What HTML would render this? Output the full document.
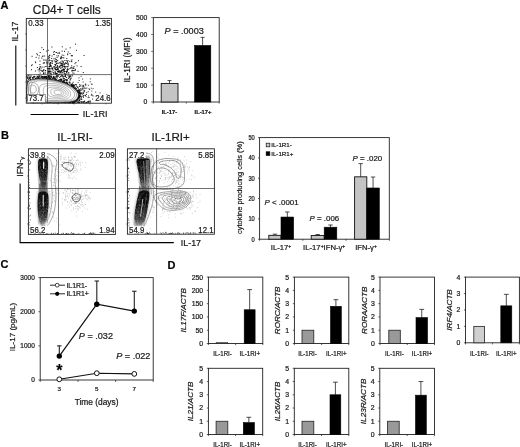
<!DOCTYPE html>
<html lang="en">
<head>
<meta charset="utf-8">
<title>Figure</title>
<style>
html,body{margin:0;padding:0;background:#fff;}
body{width:520px;height:447px;overflow:hidden;}
svg{display:block;font-family:"Liberation Sans", Arial, sans-serif;filter:blur(0.42px);}
text{stroke:#1a1a1a;stroke-width:0.22px;}
</style>
</head>
<body>
<svg width="520" height="447" viewBox="0 0 520 447">
<defs><filter id="bl" x="-20%" y="-20%" width="140%" height="140%"><feGaussianBlur stdDeviation="0.6"/></filter><linearGradient id="gB" x1="0" y1="0" x2="0" y2="1"><stop offset="0" stop-color="#080808"/><stop offset="0.6" stop-color="#161616"/><stop offset="0.85" stop-color="#444"/><stop offset="1" stop-color="#888"/></linearGradient><filter id="bl2" x="-30%" y="-30%" width="160%" height="160%"><feGaussianBlur stdDeviation="1.1"/></filter></defs>
<rect x="0" y="0" width="520" height="447" fill="#fff"/>
<text x="0.4" y="9.2" font-size="11" text-anchor="start" font-weight="bold" font-style="normal" fill="#000">A</text>
<text x="32.8" y="14" font-size="11.9" text-anchor="start" font-weight="normal" font-style="normal" fill="#1a1a1a">CD4+ T cells</text>
<clipPath id="cA"><rect x="26.3" y="18.4" width="85.10000000000001" height="84.80000000000001"/></clipPath>
<g clip-path="url(#cA)">
<path d="M55.1 65.6h1.0M55.4 59.5h1.0M48.7 59.7h1.0M68.1 66.0h1.0M67.4 64.6h1.0M61.3 63.7h1.0M41.7 67.1h1.0M62.3 66.1h1.0M41.4 47.7h1.0M49.0 57.8h1.0M60.4 61.9h1.0M62.4 57.6h1.0M60.4 65.2h1.0M51.2 74.3h1.0M62.8 71.3h1.0M51.6 56.0h1.0M54.2 60.9h1.0M63.5 64.3h1.0M53.3 54.5h1.0M52.6 70.7h1.0M49.8 63.2h1.0M61.6 51.2h1.0M58.0 71.8h1.0M38.4 58.1h1.0M56.5 55.8h1.0M62.2 61.9h1.0M43.6 67.1h1.0M63.9 69.6h1.0M71.2 65.8h1.0M58.6 52.4h1.0M63.3 57.9h1.0M53.2 52.2h1.0M48.3 57.3h1.0M69.7 47.8h1.0M43.7 62.7h1.0M71.2 67.4h1.0M60.9 56.8h1.0M46.9 68.5h1.0M68.0 64.0h1.0M59.8 65.4h1.0M72.6 67.8h1.0M62.4 66.5h1.0M42.6 70.4h1.0M66.6 66.7h1.0M38.7 55.8h1.0M65.5 49.1h1.0M55.8 69.5h1.0M45.0 73.0h1.0M62.7 61.3h1.0M60.6 67.1h1.0M58.6 70.6h1.0M51.2 58.4h1.0M67.4 63.0h1.0M49.1 68.4h1.0M71.4 59.8h1.0M44.4 60.0h1.0M56.1 59.7h1.0M70.8 55.4h1.0M69.5 53.5h1.0M50.0 66.1h1.0M68.2 69.3h1.0M60.8 63.3h1.0M58.9 66.4h1.0M55.8 63.9h1.0M62.9 62.4h1.0M64.8 66.8h1.0M76.6 65.9h1.0M53.4 58.9h1.0M57.4 68.9h1.0M54.3 64.6h1.0M75.0 44.2h1.0M46.8 63.0h1.0M61.3 64.1h1.0M53.4 66.6h1.0M60.2 58.3h1.0M80.6 66.5h1.0M52.2 60.8h1.0M55.4 61.4h1.0M31.6 56.3h1.0M67.1 54.0h1.0M56.9 69.1h1.0M65.6 73.8h1.0M41.3 58.1h1.0M54.3 66.4h1.0M67.8 52.0h1.0M64.0 51.4h1.0M59.2 71.0h1.0M56.1 63.3h1.0M65.1 63.7h1.0M56.7 73.4h1.0M67.5 60.6h1.0M83.6 55.5h1.0M66.2 60.7h1.0M58.8 67.4h1.0M59.6 66.9h1.0M43.0 49.6h1.0M63.3 55.3h1.0M47.7 50.3h1.0M69.5 68.5h1.0M71.5 56.1h1.0M57.5 53.5h1.0M64.8 74.4h1.0M49.0 73.0h1.0M66.9 61.4h1.0M38.8 71.0h1.0M56.6 57.4h1.0M61.3 65.4h1.0M71.7 55.5h1.0M68.3 74.0h1.0M71.3 61.7h1.0M50.4 69.0h1.0M58.6 63.0h1.0M71.0 61.1h1.0M35.7 57.4h1.0M39.9 66.7h1.0M60.5 57.7h1.0M57.4 68.2h1.0M58.2 72.0h1.0M56.9 69.7h1.0M71.7 75.1h1.0M51.1 68.1h1.0M39.7 52.5h1.0M38.9 68.5h1.0M45.8 61.0h1.0M55.7 61.6h1.0M51.9 63.3h1.0M74.5 63.7h1.0M62.5 69.9h1.0M55.6 52.5h1.0M52.2 69.6h1.0M41.9 56.3h1.0M67.1 68.7h1.0M57.6 68.0h1.0M59.1 53.3h1.0M42.6 56.1h1.0M66.3 58.5h1.0M48.9 55.6h1.0M42.9 60.0h1.0M46.3 63.8h1.0M35.1 62.7h1.0M51.4 47.0h1.0M64.4 60.5h1.0M36.3 53.8h1.0M60.3 58.8h1.0M64.9 68.2h1.0M63.8 64.9h1.0M70.2 67.9h1.0M61.8 46.8h1.0M66.0 72.4h1.0M54.7 58.3h1.0M75.9 50.3h1.0M48.7 66.5h1.0M75.4 62.5h1.0M62.8 69.2h1.0M48.9 60.7h1.0M60.3 68.4h1.0M57.2 60.5h1.0M47.8 58.6h1.0M66.0 63.4h1.0M49.4 55.1h1.0M82.8 72.5h1.0M63.4 66.1h1.0M73.5 66.5h1.0M56.9 65.8h1.0M39.0 68.3h1.0M60.6 57.0h1.0M70.1 76.5h1.0M44.2 56.0h1.0M60.3 63.6h1.0M53.7 54.4h1.0M77.6 71.3h1.0M46.2 51.1h1.0M73.7 70.7h1.0M74.8 69.4h1.0M49.2 63.3h1.0M37.0 54.8h1.0M56.9 65.9h1.0M50.6 60.5h1.0M61.9 65.2h1.0M63.6 64.0h1.0M54.4 67.6h1.0M58.0 55.9h1.0M51.6 61.5h1.0M56.5 63.1h1.0M57.5 63.3h1.0M56.2 52.5h1.0M61.5 70.2h1.0M61.6 60.9h1.0M61.7 55.1h1.0M39.5 61.0h1.0M48.7 66.8h1.0M47.6 73.0h1.0M53.9 51.5h1.0M50.2 65.3h1.0M62.2 63.7h1.0M71.6 68.4h1.0M57.3 66.4h1.0M73.2 70.5h1.0M67.2 54.7h1.0M56.1 67.3h1.0M54.7 69.8h1.0M63.2 69.2h1.0M69.3 61.3h1.0M54.2 68.3h1.0M66.8 62.8h1.0M46.4 62.5h1.0M60.9 70.7h1.0M64.9 62.8h1.0M65.6 66.7h1.0M59.5 62.6h1.0M47.6 73.4h1.0M39.5 66.9h1.0M50.0 62.7h1.0M45.6 60.0h1.0M43.2 72.8h1.0M55.7 69.7h1.0M47.7 62.9h1.0M68.3 72.6h1.0M60.9 65.6h1.0M48.1 60.9h1.0M57.8 74.7h1.0M31.0 69.7h1.0M56.3 61.2h1.0M31.7 64.7h1.0M43.7 63.0h1.0M50.3 71.2h1.0M56.3 73.5h1.0M65.0 75.8h1.0M36.9 67.5h1.0M39.4 64.6h1.0M49.2 70.0h1.0M54.9 62.1h1.0M37.6 69.9h1.0M48.0 68.4h1.0M49.4 66.2h1.0M57.0 71.8h1.0M49.1 66.6h1.0M48.3 56.4h1.0M40.2 70.2h1.0M35.0 71.0h1.0M51.5 63.1h1.0M47.5 68.4h1.0M54.6 73.1h1.0M49.6 65.7h1.0M48.6 69.7h1.0M57.3 71.5h1.0M42.8 63.2h1.0M46.3 66.3h1.0M38.9 69.4h1.0M45.1 70.5h1.0M55.2 67.9h1.0M73.2 68.4h1.0M61.0 70.6h1.0M61.2 58.1h1.0M42.5 71.2h1.0M53.2 76.4h1.0M57.7 74.7h1.0M55.1 69.2h1.0M55.1 64.6h1.0M61.8 64.9h1.0M47.8 70.1h1.0M61.6 70.1h1.0M41.9 71.3h1.0M55.8 73.6h1.0M66.7 70.1h1.0M52.7 67.9h1.0M64.1 66.5h1.0M56.7 67.6h1.0M43.1 73.6h1.0M63.3 69.9h1.0M43.2 74.1h1.0M49.5 71.6h1.0M65.2 75.7h1.0M50.0 73.9h1.0M43.5 69.8h1.0M63.7 63.9h1.0M34.9 61.9h1.0M61.8 67.7h1.0M49.4 68.4h1.0M48.8 64.6h1.0M50.2 62.8h1.0M49.3 71.5h1.0M54.7 68.8h1.0M41.0 70.8h1.0M45.2 77.8h1.0M57.7 69.4h1.0M45.3 66.5h1.0M40.6 68.2h1.0M52.9 72.6h1.0M43.0 70.1h1.0M77.9 60.7h1.0M44.8 70.8h1.0M51.5 72.0h1.0M47.6 71.8h1.0M50.5 73.9h1.0M31.1 65.6h1.0M50.0 64.8h1.0M39.6 73.1h1.0M43.5 73.2h1.0M57.5 71.5h1.0M64.1 71.7h1.0M48.7 71.9h1.0M63.6 70.4h1.0M59.2 74.2h1.0M53.0 73.9h1.0M74.9 70.3h1.0M61.2 71.5h1.0M72.3 72.9h1.0M67.2 69.9h1.0M59.9 72.0h1.0M45.8 76.3h1.0M67.2 66.8h1.0M66.0 71.6h1.0M63.6 73.1h1.0M48.0 71.4h1.0M71.9 70.3h1.0M51.8 67.9h1.0M50.2 73.0h1.0M73.5 73.3h1.0M55.8 70.0h1.0M64.2 73.6h1.0M51.9 68.5h1.0M62.3 72.7h1.0M49.5 71.4h1.0M55.7 73.4h1.0M59.1 71.7h1.0M57.2 75.2h1.0M71.1 70.9h1.0M66.8 69.7h1.0M60.6 74.2h1.0M72.1 70.9h1.0M59.4 72.6h1.0M48.0 72.0h1.0M54.6 73.1h1.0M51.0 66.1h1.0M60.3 72.8h1.0M55.6 74.7h1.0M57.8 70.2h1.0M63.8 67.3h1.0M54.6 71.9h1.0M66.8 71.5h1.0M62.5 70.0h1.0M62.4 77.0h1.0M54.8 72.1h1.0M61.4 75.1h1.0M50.1 65.7h1.0M64.8 74.4h1.0M61.6 72.8h1.0M67.4 73.1h1.0M73.3 68.3h1.0M66.5 70.9h1.0M60.0 71.2h1.0M56.0 69.5h1.0M55.0 73.9h1.0M60.3 72.2h1.0M58.6 74.7h1.0M64.0 71.6h1.0M65.3 71.5h1.0M50.8 76.4h1.0M63.7 69.1h1.0" stroke="#000" stroke-width="1.0" stroke-opacity="0.9" fill="none"/>
<path d="M30.2 77.6h1.0M44.4 79.6h1.0M36.5 77.1h1.0M67.5 75.6h1.0M46.1 79.2h1.0M61.7 75.7h1.0M29.5 75.8h1.0M68.5 76.7h1.0M60.9 79.5h1.0M42.9 76.7h1.0M70.1 78.3h1.0M39.5 78.7h1.0M41.9 76.7h1.0M28.2 78.9h1.0M68.3 78.4h1.0M69.5 75.6h1.0M38.3 77.6h1.0M70.1 79.8h1.0M45.0 76.6h1.0M46.9 77.7h1.0M68.8 76.3h1.0M63.3 78.8h1.0M64.2 79.0h1.0M54.7 77.0h1.0M42.1 77.1h1.0M62.4 75.9h1.0M36.7 78.9h1.0M38.9 75.8h1.0M29.5 78.0h1.0M42.3 79.9h1.0M66.9 79.9h1.0M39.7 75.9h1.0M32.2 77.7h1.0M59.2 77.5h1.0M38.3 77.4h1.0M55.3 78.5h1.0M60.9 79.3h1.0M57.2 76.0h1.0M65.0 76.8h1.0M52.9 77.2h1.0M60.5 76.4h1.0M38.9 76.6h1.0M34.7 79.5h1.0M53.4 77.0h1.0M45.4 80.0h1.0M50.3 76.5h1.0M63.6 78.4h1.0M71.6 76.0h1.0M48.9 79.2h1.0M65.0 79.6h1.0M29.8 76.8h1.0M33.2 76.4h1.0M70.8 78.1h1.0M68.9 77.2h1.0M66.1 77.5h1.0M39.4 79.0h1.0M69.6 76.0h1.0M54.2 78.3h1.0M37.6 77.2h1.0M34.2 76.4h1.0M39.2 78.2h1.0M56.7 76.4h1.0M28.5 77.0h1.0M57.8 76.3h1.0M41.7 76.4h1.0M63.0 78.0h1.0M30.8 76.0h1.0M45.4 78.0h1.0M56.1 75.9h1.0M35.2 78.6h1.0M46.0 76.8h1.0M41.5 79.8h1.0M41.7 78.0h1.0M43.7 77.4h1.0M66.0 80.0h1.0M44.0 76.4h1.0M60.0 76.4h1.0M28.3 79.6h1.0M46.6 79.2h1.0M45.9 79.5h1.0M48.3 76.2h1.0M28.7 78.0h1.0M56.2 79.6h1.0M31.9 78.3h1.0M44.3 77.8h1.0M34.4 76.8h1.0M50.9 79.7h1.0M32.8 77.7h1.0M63.4 79.9h1.0M36.7 76.1h1.0M69.5 79.9h1.0M49.2 75.7h1.0M68.8 77.2h1.0M67.8 78.3h1.0M64.3 76.2h1.0M62.6 76.5h1.0M45.8 79.3h1.0M64.5 76.3h1.0M37.6 77.3h1.0M50.8 77.2h1.0M33.4 76.6h1.0M59.9 79.5h1.0M29.8 78.0h1.0M61.3 75.7h1.0M64.9 76.0h1.0M54.4 78.0h1.0M55.6 76.9h1.0M46.5 78.1h1.0M46.7 78.5h1.0M47.7 77.5h1.0M29.0 78.3h1.0M49.5 76.6h1.0M61.6 79.0h1.0M48.2 76.3h1.0M48.8 76.0h1.0M33.7 77.4h1.0M32.0 77.5h1.0M50.4 75.7h1.0M56.0 75.9h1.0M60.3 79.0h1.0" stroke="#000" stroke-width="1.0" stroke-opacity="0.85" fill="none"/>
<path d="M29.5 83.1h1.0M28.6 83.0h1.0M30.8 81.2h1.0M30.1 84.1h1.0M30.5 82.1h1.0M28.1 81.8h1.0M26.4 85.8h1.0M28.2 83.6h1.0M29.8 82.4h1.0M29.5 81.8h1.0M28.2 82.9h1.0M28.9 86.0h1.0M29.2 81.6h1.0M29.9 82.4h1.0M27.4 83.7h1.0M26.7 81.5h1.0M28.8 84.2h1.0M28.3 82.4h1.0M35.1 78.6h1.0M33.9 79.6h1.0M36.1 80.0h1.0M29.3 78.1h1.0M32.9 79.0h1.0M30.1 80.8h1.0M32.4 80.1h1.0M35.8 79.7h1.0M33.8 79.6h1.0M32.5 80.7h1.0M29.8 79.7h1.0M30.0 79.6h1.0M31.1 80.2h1.0M31.6 81.3h1.0M35.4 78.2h1.0M32.7 80.4h1.0M32.3 80.9h1.0M33.9 79.3h1.0M38.9 78.7h1.0M40.3 79.8h1.0M36.6 78.7h1.0M42.4 78.7h1.0M36.4 77.8h1.0M42.8 78.1h1.0M38.9 79.5h1.0M45.4 76.5h1.0M37.6 76.7h1.0M40.6 77.2h1.0M39.2 79.8h1.0M34.9 81.4h1.0M44.5 76.9h1.0M36.9 78.4h1.0M42.6 78.9h1.0M43.6 78.8h1.0M46.1 79.2h1.0M38.2 74.9h1.0M41.8 82.2h1.0M39.5 82.7h1.0M41.4 76.7h1.0M42.6 79.7h1.0M44.1 77.6h1.0M41.9 78.4h1.0M37.6 78.5h1.0M45.4 79.4h1.0M38.5 78.3h1.0M37.9 79.1h1.0M41.2 77.1h1.0M45.4 80.0h1.0M40.9 76.2h1.0M48.0 80.5h1.0M45.9 78.8h1.0M38.4 79.3h1.0M45.4 76.9h1.0M43.3 78.1h1.0M39.3 80.7h1.0M37.3 80.6h1.0M36.2 80.4h1.0M42.1 80.2h1.0M42.3 79.0h1.0M43.9 79.4h1.0M40.6 77.5h1.0M41.9 78.8h1.0M47.3 80.8h1.0M38.8 79.0h1.0M43.8 79.1h1.0M37.9 79.2h1.0M36.3 79.1h1.0M44.0 83.2h1.0M39.4 81.6h1.0M42.8 80.6h1.0M37.4 76.5h1.0M42.8 77.9h1.0M37.2 81.2h1.0M37.2 78.8h1.0M37.8 82.7h1.0M38.5 81.5h1.0M36.3 79.5h1.0M43.6 76.6h1.0M49.0 80.5h1.0M53.0 77.9h1.0M45.0 80.4h1.0M53.1 81.3h1.0M54.9 81.4h1.0M48.1 76.4h1.0M48.3 80.4h1.0M48.3 79.4h1.0M51.0 83.8h1.0M56.8 82.7h1.0M43.4 82.5h1.0M53.8 78.4h1.0M47.4 78.8h1.0M47.7 79.7h1.0M50.7 77.1h1.0M49.7 78.4h1.0M46.0 78.2h1.0M54.9 79.2h1.0M51.7 78.1h1.0M47.7 76.0h1.0M52.7 77.0h1.0M51.6 78.6h1.0M48.6 79.0h1.0M50.7 77.1h1.0M52.3 81.8h1.0M49.3 78.5h1.0M53.7 79.6h1.0M52.8 78.4h1.0M51.4 79.7h1.0M53.0 82.4h1.0M54.6 80.3h1.0M49.1 79.2h1.0M49.1 77.4h1.0M47.7 82.0h1.0M47.4 77.8h1.0M57.2 83.6h1.0M50.8 80.1h1.0M51.8 79.8h1.0M49.7 78.2h1.0M49.1 82.2h1.0M54.2 80.2h1.0M53.1 81.0h1.0M47.8 76.2h1.0M50.2 80.4h1.0M49.8 79.1h1.0M53.7 77.2h1.0M50.1 81.8h1.0M48.1 77.9h1.0M54.3 81.9h1.0M47.6 79.9h1.0M45.8 77.7h1.0M47.8 81.3h1.0M48.7 77.8h1.0M52.6 78.2h1.0M48.3 75.9h1.0M55.9 82.7h1.0M52.6 80.0h1.0M54.8 79.4h1.0M47.8 80.2h1.0M53.2 81.0h1.0M64.4 82.0h1.0M61.7 81.1h1.0M64.4 80.5h1.0M64.4 85.3h1.0M60.7 80.2h1.0M62.7 82.5h1.0M59.4 82.7h1.0M55.6 80.9h1.0M58.3 81.9h1.0M67.0 83.1h1.0M57.9 80.8h1.0M62.3 84.1h1.0M66.8 84.3h1.0M64.0 82.7h1.0M63.5 81.8h1.0M62.9 83.1h1.0M66.7 83.6h1.0M59.8 85.1h1.0M57.2 81.9h1.0M63.4 84.4h1.0M56.8 80.6h1.0M59.4 79.8h1.0M60.3 83.9h1.0M63.1 80.7h1.0M58.4 82.7h1.0M59.3 79.9h1.0M55.8 77.1h1.0M62.3 82.5h1.0M57.5 84.1h1.0M59.8 79.7h1.0M62.4 81.5h1.0M60.9 80.1h1.0M62.7 84.9h1.0M60.2 81.0h1.0M60.5 81.7h1.0M63.3 81.7h1.0M63.9 80.7h1.0M57.8 82.9h1.0M56.7 82.4h1.0M66.5 83.9h1.0M58.6 82.7h1.0M62.8 81.2h1.0M54.4 82.0h1.0M66.4 82.9h1.0M61.7 83.1h1.0M58.1 81.3h1.0M55.7 79.7h1.0M67.6 85.0h1.0M59.9 81.2h1.0M58.1 80.1h1.0M56.9 78.0h1.0M63.6 82.2h1.0M61.2 80.4h1.0M64.3 87.5h1.0M62.7 82.5h1.0M62.1 81.7h1.0M58.7 80.4h1.0M63.2 83.0h1.0M57.7 80.7h1.0M64.0 84.8h1.0M66.3 82.8h1.0M65.9 86.9h1.0M72.6 84.8h1.0M71.5 86.1h1.0M71.0 84.7h1.0M72.7 85.2h1.0M68.9 87.3h1.0M69.8 88.6h1.0M72.0 83.8h1.0M68.5 84.4h1.0M65.5 83.3h1.0M74.8 87.6h1.0M72.6 84.8h1.0M68.9 81.9h1.0M71.5 85.2h1.0M62.8 82.6h1.0M66.5 80.1h1.0M64.8 82.6h1.0M68.8 86.4h1.0M71.1 84.4h1.0M66.7 80.9h1.0M63.6 82.5h1.0M69.7 86.5h1.0M69.8 86.6h1.0M65.9 82.5h1.0M67.6 86.7h1.0M71.7 85.5h1.0M69.7 86.2h1.0M72.2 88.3h1.0M67.2 84.6h1.0M68.7 83.2h1.0M67.4 84.7h1.0M67.2 88.2h1.0M72.6 82.3h1.0M68.0 84.6h1.0M66.8 84.3h1.0M70.5 84.1h1.0M72.6 86.7h1.0M68.8 86.1h1.0M72.1 89.2h1.0M72.2 85.1h1.0M67.0 85.2h1.0M73.4 87.0h1.0M65.2 85.0h1.0M74.4 85.0h1.0M66.0 80.9h1.0M70.4 85.8h1.0M66.2 79.8h1.0M69.4 88.1h1.0M71.9 87.2h1.0M68.3 85.7h1.0M66.3 84.9h1.0M72.8 86.2h1.0M70.3 84.9h1.0M69.8 82.8h1.0M72.8 88.2h1.0M68.7 82.3h1.0M68.2 86.2h1.0M68.8 86.8h1.0M66.2 84.4h1.0M75.2 90.5h1.0M76.7 93.3h1.0M72.8 91.2h1.0M75.1 90.6h1.0M74.8 88.3h1.0M80.8 93.4h1.0M76.3 92.4h1.0M73.9 89.8h1.0M80.3 88.7h1.0M78.3 92.6h1.0M79.5 92.6h1.0M74.3 88.6h1.0M76.0 92.0h1.0M73.5 85.4h1.0M70.0 89.6h1.0M72.8 87.9h1.0M73.7 85.4h1.0M74.1 88.5h1.0M74.2 90.3h1.0M71.5 86.5h1.0M75.6 90.7h1.0M72.6 85.8h1.0M79.0 91.9h1.0M76.0 86.0h1.0M78.7 90.0h1.0M75.8 88.6h1.0M74.2 86.7h1.0M71.7 89.7h1.0M70.7 87.0h1.0M77.0 91.6h1.0M77.6 90.2h1.0M74.0 92.7h1.0M75.7 84.5h1.0M72.9 89.5h1.0M79.6 90.5h1.0M73.9 89.0h1.0M73.9 88.1h1.0M72.6 86.6h1.0M70.8 86.0h1.0M74.9 89.1h1.0M76.7 91.0h1.0M71.1 87.9h1.0M75.1 89.8h1.0M70.4 86.0h1.0M70.7 86.7h1.0M75.2 84.5h1.0M71.6 90.7h1.0M71.9 92.3h1.0M75.7 92.2h1.0M69.8 90.8h1.0M79.2 89.6h1.0M78.7 92.1h1.0M78.5 91.5h1.0M73.5 88.1h1.0M76.8 90.6h1.0M75.9 89.8h1.0M78.0 88.1h1.0M77.0 87.1h1.0M79.3 92.1h1.0M73.2 87.3h1.0M79.9 93.8h1.0M75.8 93.2h1.0M77.6 98.4h1.0M79.5 97.0h1.0M76.6 96.9h1.0M76.8 94.3h1.0M78.5 93.9h1.0M77.4 95.5h1.0M74.4 91.7h1.0M75.6 94.2h1.0M77.1 91.4h1.0M76.3 93.7h1.0M77.7 95.0h1.0M76.1 96.3h1.0M75.5 95.0h1.0M75.8 92.7h1.0M79.1 93.5h1.0M78.2 96.6h1.0M77.4 96.8h1.0M75.1 95.2h1.0M78.2 97.0h1.0M78.7 97.2h1.0M76.6 91.9h1.0M78.8 94.6h1.0M77.7 93.0h1.0M78.3 92.0h1.0M80.4 99.2h1.0M77.7 90.0h1.0M79.9 94.2h1.0M78.4 90.9h1.0M76.4 96.5h1.0M77.5 93.1h1.0M76.1 93.6h1.0M78.4 90.6h1.0M76.7 95.1h1.0M79.0 95.5h1.0M81.0 97.1h1.0M79.5 91.1h1.0M78.5 98.7h1.0M78.5 96.8h1.0M74.0 95.1h1.0M72.0 94.6h1.0M75.2 94.5h1.0M76.3 95.9h1.0M80.1 93.1h1.0M79.1 95.8h1.0M75.6 93.4h1.0M79.9 96.2h1.0M73.7 90.4h1.0M74.6 93.3h1.0M75.6 97.3h1.0M77.1 96.3h1.0M76.8 93.7h1.0M79.4 96.0h1.0M77.1 95.0h1.0M78.2 95.7h1.0M76.5 94.4h1.0M77.7 96.8h1.0M78.0 92.8h1.0M79.3 95.7h1.0M72.5 99.1h1.0M75.1 98.0h1.0M75.7 96.5h1.0M72.5 100.2h1.0M79.1 100.1h1.0M78.4 98.2h1.0M76.9 97.1h1.0M75.0 100.4h1.0M73.7 102.5h1.0M77.2 99.7h1.0M79.5 96.3h1.0M75.0 99.0h1.0M79.5 96.0h1.0M72.0 101.7h1.0M80.8 99.2h1.0M73.1 103.8h1.0M74.0 102.5h1.0M70.0 101.0h1.0M74.9 99.9h1.0M75.9 101.3h1.0M76.4 97.8h1.0M76.6 98.7h1.0M73.6 103.0h1.0M75.9 97.3h1.0M77.2 99.1h1.0M73.9 101.4h1.0M77.0 99.1h1.0M77.1 96.0h1.0M77.2 97.1h1.0M77.4 97.5h1.0M77.8 96.3h1.0M75.7 100.0h1.0M77.6 98.3h1.0M73.0 100.8h1.0M78.0 100.9h1.0M78.8 96.9h1.0M76.6 100.9h1.0M77.8 97.4h1.0M74.6 98.8h1.0M73.0 101.8h1.0M75.1 100.9h1.0M79.1 100.5h1.0M76.3 97.7h1.0M74.5 100.9h1.0M78.2 98.9h1.0M79.0 100.0h1.0M73.8 100.4h1.0M77.4 97.9h1.0M77.4 98.1h1.0M74.5 98.4h1.0M74.9 96.6h1.0M77.9 96.8h1.0M75.8 100.4h1.0M74.1 98.0h1.0M78.8 97.6h1.0M76.7 99.5h1.0M76.9 99.6h1.0M78.5 96.0h1.0M75.1 101.7h1.0M75.2 99.9h1.0M65.9 100.9h1.0M75.0 99.2h1.0M73.6 101.9h1.0M67.0 105.8h1.0M68.7 103.5h1.0M70.0 98.4h1.0M74.7 103.6h1.0M72.1 100.5h1.0M67.8 100.0h1.0M72.0 102.6h1.0M65.8 101.4h1.0M72.8 100.7h1.0M67.4 100.8h1.0M70.9 101.4h1.0M68.6 102.4h1.0M69.5 102.1h1.0M72.6 103.5h1.0M67.4 103.3h1.0M65.1 103.1h1.0M69.4 104.9h1.0M71.2 100.6h1.0M63.1 101.4h1.0M71.2 99.3h1.0M69.7 98.5h1.0M72.5 102.7h1.0M73.2 101.8h1.0M71.5 99.5h1.0M72.0 102.9h1.0M70.7 102.1h1.0M76.7 100.9h1.0M72.2 96.5h1.0M69.9 103.1h1.0M70.4 103.6h1.0M76.1 99.8h1.0M70.0 101.0h1.0M71.5 102.3h1.0M74.2 97.8h1.0M72.0 103.7h1.0M66.5 101.8h1.0M67.5 99.7h1.0M72.0 104.4h1.0M69.3 103.1h1.0M70.9 100.5h1.0M71.4 100.1h1.0M64.8 98.7h1.0M62.6 102.5h1.0M71.7 103.4h1.0M72.8 100.2h1.0M70.3 101.5h1.0M72.6 101.5h1.0M70.0 102.1h1.0M65.9 100.5h1.0M70.1 99.7h1.0M68.8 103.2h1.0M69.0 98.7h1.0M71.8 103.0h1.0M67.7 102.8h1.0M72.3 102.8h1.0M67.1 100.6h1.0M66.6 101.9h1.0M52.4 103.2h1.0M53.9 103.9h1.0M47.3 102.9h1.0M58.1 104.3h1.0M64.1 103.9h1.0M58.1 103.3h1.0M57.1 102.1h1.0M54.6 102.2h1.0M63.1 104.4h1.0M56.7 103.9h1.0M61.0 103.2h1.0M58.7 102.6h1.0M59.9 102.3h1.0M55.4 102.4h1.0M58.4 103.1h1.0M48.7 102.2h1.0M54.2 104.7h1.0M54.0 103.8h1.0M43.7 104.9h1.0M40.2 102.1h1.0M37.8 102.8h1.0M44.1 102.8h1.0M44.5 104.1h1.0M43.1 101.7h1.0M33.7 101.7h1.0M36.6 104.0h1.0M43.3 101.1h1.0M37.1 103.2h1.0M39.2 102.0h1.0M47.0 102.4h1.0M40.5 102.1h1.0M34.7 101.8h1.0M43.5 103.3h1.0M40.0 102.7h1.0M46.7 102.1h1.0M39.9 104.1h1.0M33.0 103.2h1.0M30.1 99.6h1.0M29.2 100.4h1.0M31.1 102.1h1.0M29.8 100.8h1.0M28.7 99.7h1.0M32.2 103.0h1.0M32.6 100.6h1.0M33.2 102.9h1.0M28.4 100.3h1.0M32.3 103.0h1.0M29.8 101.8h1.0M33.2 102.1h1.0M31.0 103.2h1.0M34.6 103.6h1.0M32.2 103.0h1.0M31.3 101.4h1.0M28.5 100.3h1.0M27.5 94.0h1.0M26.0 93.3h1.0M27.1 99.2h1.0M28.2 93.1h1.0M27.7 96.3h1.0M26.7 95.7h1.0M26.9 96.3h1.0M26.2 100.3h1.0M26.8 97.1h1.0M27.4 98.9h1.0M28.7 99.3h1.0M26.6 96.5h1.0M28.5 99.3h1.0M27.4 96.6h1.0M25.5 95.1h1.0M27.7 96.1h1.0M28.1 95.8h1.0M25.1 95.3h1.0M24.5 92.4h1.0M26.8 90.7h1.0M26.5 92.9h1.0M26.2 91.3h1.0M27.9 86.8h1.0M26.5 88.6h1.0M28.6 88.8h1.0M26.8 86.2h1.0M24.7 90.7h1.0M27.6 87.3h1.0M26.8 88.6h1.0M26.5 88.6h1.0M26.4 92.4h1.0M26.4 88.7h1.0M26.9 89.0h1.0M27.8 92.0h1.0M28.5 85.3h1.0M26.8 87.3h1.0" stroke="#000" stroke-width="1.0" stroke-opacity="0.9" fill="none"/>
<path d="M84.5 95.2h1.0M82.4 89.0h1.0M85.3 85.2h1.0M76.2 88.3h1.0M81.7 86.6h1.0M78.7 80.5h1.0M83.1 86.1h1.0M82.7 92.7h1.0M83.1 85.4h1.0M87.7 91.7h1.0M82.1 89.0h1.0M86.2 92.7h1.0M90.8 95.1h1.0M77.2 90.5h1.0M89.1 89.5h1.0M85.0 95.5h1.0M80.6 76.3h1.0M83.0 93.4h1.0M83.0 86.9h1.0M91.3 91.1h1.0M77.2 87.1h1.0M84.8 84.6h1.0M92.1 99.1h1.0M92.6 96.0h1.0M91.6 95.3h1.0M92.6 88.7h1.0M83.0 97.3h1.0M81.3 99.4h1.0M82.6 96.7h1.0M82.7 82.0h1.0M84.2 100.9h1.0M86.3 88.0h1.0M82.1 79.0h1.0M80.5 98.2h1.0M88.4 101.0h1.0M85.3 88.6h1.0M81.5 93.5h1.0M99.6 92.9h1.0M89.6 101.3h1.0M86.0 94.4h1.0M80.6 89.2h1.0M78.5 77.9h1.0M84.1 91.8h1.0M81.2 90.2h1.0M76.2 91.8h1.0M78.6 93.4h1.0M106.3 94.7h1.0M88.7 97.6h1.0M87.6 97.6h1.0M87.3 101.6h1.0M89.8 101.2h1.0M78.1 92.0h1.0M76.3 98.5h1.0M88.5 88.8h1.0M91.6 84.4h1.0M81.3 96.3h1.0M81.7 94.6h1.0M91.2 94.2h1.0M81.2 92.8h1.0M77.6 82.6h1.0M90.9 84.1h1.0M76.4 95.6h1.0M76.0 96.5h1.0M78.2 94.1h1.0M82.8 92.0h1.0M81.7 101.6h1.0M77.7 95.6h1.0M83.3 95.3h1.0M89.7 81.8h1.0M84.1 90.8h1.0M79.6 86.2h1.0M95.2 92.1h1.0M87.8 85.3h1.0M83.1 101.8h1.0M81.7 85.2h1.0M80.1 85.2h1.0M78.9 86.5h1.0M83.8 101.5h1.0M82.8 95.8h1.0M90.8 88.2h1.0M84.3 87.2h1.0M89.9 78.9h1.0M83.6 90.5h1.0M83.7 88.7h1.0M85.5 96.4h1.0M88.0 96.0h1.0M85.2 84.0h1.0M78.7 92.9h1.0M79.0 84.8h1.0M82.3 88.0h1.0" stroke="#000" stroke-width="1.0" stroke-opacity="0.8" fill="none"/>
<path d="M77.6 102.0h1.0M57.7 102.8h1.0M63.7 102.1h1.0M47.8 102.8h1.0M56.0 102.2h1.0M55.0 102.3h1.0M79.3 102.3h1.0M57.9 102.8h1.0M84.5 103.0h1.0M85.7 102.8h1.0M56.1 101.6h1.0M74.8 102.8h1.0M63.7 102.9h1.0M63.5 102.5h1.0M79.1 102.3h1.0M76.2 102.9h1.0M83.5 102.1h1.0M73.0 102.8h1.0M88.6 102.9h1.0M79.0 103.6h1.0M63.8 102.2h1.0M50.2 102.0h1.0M81.0 102.0h1.0M69.3 102.8h1.0M87.6 102.4h1.0M73.7 102.3h1.0M67.8 101.5h1.0M65.7 102.6h1.0M68.3 102.8h1.0M69.1 102.1h1.0M70.0 102.7h1.0M80.3 101.7h1.0M65.1 103.1h1.0M71.9 102.6h1.0M81.6 102.4h1.0M56.9 102.2h1.0M50.5 102.5h1.0M51.0 102.2h1.0M80.9 102.2h1.0M77.6 102.3h1.0M79.0 102.2h1.0M78.1 102.4h1.0M65.8 100.9h1.0M83.8 101.5h1.0M86.2 102.7h1.0M70.3 102.8h1.0M47.3 102.8h1.0M58.8 102.4h1.0M61.1 102.4h1.0M72.0 103.4h1.0M70.0 102.3h1.0M60.7 102.5h1.0M86.0 102.7h1.0M58.6 101.5h1.0M56.1 103.0h1.0M63.8 102.6h1.0M67.9 101.7h1.0M63.5 102.4h1.0M83.1 102.7h1.0M72.0 103.5h1.0M49.3 102.2h1.0M65.4 103.0h1.0M72.4 102.2h1.0M82.8 102.8h1.0M60.1 102.2h1.0M73.6 101.5h1.0M67.5 102.9h1.0M86.5 102.2h1.0M49.6 101.7h1.0M49.2 102.7h1.0M85.8 103.0h1.0M55.1 102.7h1.0M88.5 101.6h1.0M69.4 102.1h1.0M77.3 102.2h1.0M56.5 102.0h1.0M84.7 103.1h1.0M56.3 103.3h1.0M51.5 103.1h1.0M89.8 102.9h1.0M65.7 102.2h1.0M87.8 102.1h1.0M77.9 102.5h1.0M78.3 102.5h1.0M48.9 102.6h1.0M57.5 102.0h1.0M73.2 102.1h1.0M53.9 103.0h1.0M88.0 102.0h1.0M53.8 103.3h1.0" stroke="#111" stroke-width="1.0" stroke-opacity="0.85" fill="none"/>
<path d="M27.2 84.6h1.0M25.5 74.9h1.0M26.3 80.0h1.0M27.3 88.7h1.0M27.3 93.7h1.0M27.1 85.6h1.0M26.7 96.4h1.0M26.6 77.3h1.0M28.3 99.4h1.0M26.0 88.2h1.0M26.7 94.3h1.0M27.2 87.4h1.0M27.0 87.1h1.0M26.7 97.3h1.0M26.3 76.4h1.0M26.4 77.8h1.0M26.7 96.8h1.0M27.8 80.1h1.0M26.9 90.2h1.0M26.7 100.1h1.0M26.1 91.7h1.0M27.8 75.4h1.0M26.5 80.7h1.0M27.3 94.0h1.0M27.2 82.1h1.0M27.6 75.9h1.0M26.6 88.9h1.0M26.7 95.3h1.0M26.3 74.9h1.0M26.5 87.9h1.0M27.4 77.6h1.0M27.2 89.6h1.0M26.5 91.9h1.0M27.2 78.4h1.0M27.4 83.0h1.0M27.8 96.7h1.0M27.2 78.0h1.0M26.4 76.5h1.0M27.0 87.4h1.0M26.6 88.5h1.0" stroke="#111" stroke-width="1.0" stroke-opacity="0.85" fill="none"/>
<path d="M27.2 84.7C27.7 82.7 28.0 81.7 29.5 80.7C31.0 79.8 33.2 79.3 36.0 79.0C38.8 78.7 42.7 78.9 46.0 79.1C49.3 79.4 52.8 79.8 56.0 80.5C59.2 81.2 62.2 82.2 65.0 83.3C67.8 84.4 70.4 85.7 72.5 87.2C74.6 88.7 76.6 90.5 77.5 92.2C78.4 93.9 78.6 95.7 78.0 97.2C77.4 98.7 76.3 100.1 74.0 101.0C71.7 101.9 68.3 102.2 64.0 102.5C59.7 102.8 53.0 102.7 48.0 102.7C43.0 102.7 37.3 102.9 34.0 102.5C30.7 102.1 29.2 101.8 28.0 100.2C26.8 98.6 26.7 95.3 26.6 92.7C26.5 90.1 26.7 86.7 27.2 84.7Z" stroke="#111" stroke-width="0.8" fill="#fff" stroke-opacity="1"/>
<path d="M28.9 85.1C29.4 83.3 29.7 82.3 31.1 81.4C32.4 80.5 34.6 80.1 37.1 79.8C39.7 79.6 43.3 79.7 46.4 79.9C49.5 80.2 52.8 80.6 55.7 81.2C58.7 81.9 61.5 82.8 64.1 83.8C66.6 84.9 69.1 86.1 71.1 87.5C73.0 88.8 74.9 90.6 75.7 92.1C76.6 93.7 76.7 95.4 76.2 96.8C75.6 98.1 74.6 99.5 72.5 100.3C70.3 101.1 67.2 101.4 63.2 101.7C59.1 102.0 52.9 101.9 48.3 101.9C43.6 101.9 38.4 102.1 35.3 101.7C32.2 101.3 30.8 101.1 29.7 99.6C28.5 98.0 28.5 95.0 28.4 92.6C28.3 90.2 28.5 87.0 28.9 85.1Z" stroke="#555" stroke-width="0.5" fill="none" stroke-opacity="1"/>
<path d="M31.1 85.7C31.5 84.0 31.8 83.1 33.0 82.3C34.3 81.5 36.2 81.1 38.5 80.9C40.9 80.6 44.2 80.7 47.0 81.0C49.9 81.2 52.9 81.6 55.5 82.2C58.2 82.7 60.9 83.6 63.2 84.5C65.5 85.5 67.8 86.6 69.6 87.8C71.3 89.1 73.0 90.7 73.8 92.1C74.6 93.5 74.7 95.1 74.2 96.3C73.8 97.6 72.8 98.8 70.8 99.6C68.9 100.3 66.0 100.6 62.4 100.8C58.7 101.1 53.0 101.0 48.8 101.0C44.5 101.0 39.7 101.2 36.9 100.8C34.0 100.5 32.8 100.3 31.8 98.9C30.7 97.5 30.7 94.7 30.6 92.5C30.4 90.3 30.7 87.4 31.1 85.7Z" stroke="#666" stroke-width="0.5" fill="none" stroke-opacity="1"/>
<path d="M42.0 84.5C44.1 83.7 49.0 83.4 52.0 83.5C55.0 83.6 57.6 84.2 60.0 85.0C62.4 85.8 64.8 86.8 66.5 88.0C68.2 89.2 70.1 90.9 70.5 92.5C70.9 94.1 70.4 96.2 69.0 97.5C67.6 98.8 64.8 99.5 62.0 100.0C59.2 100.5 55.0 100.7 52.0 100.5C49.0 100.3 46.0 100.0 44.0 99.0C42.0 98.0 40.8 96.2 40.0 94.5C39.2 92.8 39.2 90.2 39.5 88.5C39.8 86.8 39.9 85.3 42.0 84.5Z" stroke="#777" stroke-width="0.5" fill="none" stroke-opacity="1"/>
<path d="M45.4 86.1C47.1 85.4 51.0 85.2 53.4 85.3C55.8 85.4 57.9 85.9 59.8 86.5C61.7 87.1 63.6 87.9 65.0 88.9C66.4 89.9 67.9 91.2 68.2 92.5C68.5 93.8 68.1 95.5 67.0 96.5C65.9 97.5 63.7 98.1 61.4 98.5C59.1 98.9 55.8 99.0 53.4 98.9C51.0 98.8 48.6 98.5 47.0 97.7C45.4 96.9 44.4 95.5 43.8 94.1C43.2 92.7 43.1 90.6 43.4 89.3C43.7 88.0 43.7 86.8 45.4 86.1Z" stroke="#777" stroke-width="0.5" fill="none" stroke-opacity="1"/>
<path d="M48.8 87.7C50.1 87.2 53.0 87.0 54.8 87.1C56.6 87.1 58.2 87.5 59.6 88.0C61.0 88.5 62.5 89.0 63.5 89.8C64.5 90.5 65.7 91.5 65.9 92.5C66.2 93.5 65.8 94.8 65.0 95.5C64.2 96.2 62.5 96.7 60.8 97.0C59.1 97.3 56.6 97.4 54.8 97.3C53.0 97.2 51.2 97.0 50.0 96.4C48.8 95.8 48.0 94.8 47.6 93.7C47.2 92.7 47.1 91.1 47.3 90.1C47.5 89.1 47.6 88.2 48.8 87.7Z" stroke="#777" stroke-width="0.5" fill="none" stroke-opacity="1"/>
<path d="M51.9 89.1C52.7 88.8 54.8 88.7 56.1 88.7C57.3 88.8 58.4 89.0 59.4 89.3C60.4 89.7 61.4 90.1 62.1 90.6C62.9 91.1 63.7 91.8 63.8 92.5C64.0 93.2 63.8 94.1 63.2 94.6C62.6 95.1 61.5 95.4 60.3 95.7C59.1 95.9 57.3 95.9 56.1 95.9C54.8 95.8 53.5 95.7 52.7 95.2C51.9 94.8 51.3 94.1 51.0 93.3C50.7 92.6 50.7 91.5 50.8 90.8C51.0 90.1 51.0 89.5 51.9 89.1Z" stroke="#777" stroke-width="0.5" fill="none" stroke-opacity="1"/>
<path d="M54.8 90.5C55.3 90.3 56.5 90.2 57.2 90.2C58.0 90.3 58.6 90.4 59.2 90.6C59.9 90.8 60.4 91.1 60.9 91.4C61.3 91.7 61.8 92.1 61.9 92.5C62.0 92.9 61.9 93.4 61.5 93.8C61.1 94.1 60.5 94.2 59.8 94.4C59.0 94.5 58.0 94.5 57.2 94.5C56.5 94.5 55.8 94.4 55.2 94.1C54.8 93.9 54.4 93.4 54.2 93.0C54.1 92.6 54.0 91.9 54.1 91.5C54.2 91.1 54.2 90.7 54.8 90.5Z" stroke="#777" stroke-width="0.5" fill="none" stroke-opacity="1"/>
<path d="M28.5 84.0C29.3 82.6 31.5 82.3 33.0 82.5C34.5 82.7 36.6 83.6 37.5 85.0C38.4 86.4 38.8 89.3 38.5 91.0C38.2 92.7 37.3 94.2 36.0 95.0C34.7 95.8 31.8 96.2 30.5 95.5C29.2 94.8 28.3 92.9 28.0 91.0C27.7 89.1 27.7 85.4 28.5 84.0Z" stroke="#666" stroke-width="0.5" fill="none" stroke-opacity="1"/>
<path d="M30.3 86.0C30.8 85.2 32.1 85.0 33.0 85.1C33.9 85.2 35.2 85.8 35.7 86.6C36.2 87.4 36.4 89.2 36.3 90.2C36.1 91.2 35.6 92.1 34.8 92.6C34.0 93.0 32.3 93.3 31.5 92.9C30.7 92.5 30.2 91.4 30.0 90.2C29.8 89.0 29.8 86.8 30.3 86.0Z" stroke="#666" stroke-width="0.5" fill="none" stroke-opacity="1"/>
</g>
<rect x="26.3" y="18.4" width="85.10000000000001" height="84.80000000000001" fill="none" stroke="#222" stroke-width="0.9"/>
<line x1="47.5" y1="18.4" x2="47.5" y2="103.2" stroke="#333" stroke-width="0.7"/>
<line x1="26.3" y1="74.6" x2="111.4" y2="74.6" stroke="#333" stroke-width="0.7"/>
<line x1="25.1" y1="34" x2="26.3" y2="34" stroke="#222" stroke-width="0.6"/>
<line x1="25.1" y1="50" x2="26.3" y2="50" stroke="#222" stroke-width="0.6"/>
<line x1="25.1" y1="66" x2="26.3" y2="66" stroke="#222" stroke-width="0.6"/>
<line x1="25.1" y1="82" x2="26.3" y2="82" stroke="#222" stroke-width="0.6"/>
<line x1="25.1" y1="98" x2="26.3" y2="98" stroke="#222" stroke-width="0.6"/>
<line x1="42" y1="103.2" x2="42" y2="104.4" stroke="#222" stroke-width="0.6"/>
<line x1="58" y1="103.2" x2="58" y2="104.4" stroke="#222" stroke-width="0.6"/>
<line x1="74" y1="103.2" x2="74" y2="104.4" stroke="#222" stroke-width="0.6"/>
<line x1="90" y1="103.2" x2="90" y2="104.4" stroke="#222" stroke-width="0.6"/>
<line x1="106" y1="103.2" x2="106" y2="104.4" stroke="#222" stroke-width="0.6"/>
<rect x="27.6" y="94.7" width="17.6" height="7.9" fill="#fff" stroke="#444" stroke-width="0.5"/>
<rect x="94.5" y="95.4" width="16" height="6.8" fill="#fff"/>
<text x="0" y="0" font-size="8.3" text-anchor="start" font-weight="normal" font-style="normal" fill="#1a1a1a" transform="translate(28.2 26.3) scale(0.95 1)">0.33</text>
<text x="0" y="0" font-size="8.3" text-anchor="end" font-weight="normal" font-style="normal" fill="#1a1a1a" transform="translate(110.6 26.3) scale(0.95 1)">1.35</text>
<text x="0" y="0" font-size="8.3" text-anchor="start" font-weight="normal" font-style="normal" fill="#1a1a1a" transform="translate(28.4 101.2) scale(0.95 1)">73.7</text>
<text x="0" y="0" font-size="8.3" text-anchor="end" font-weight="normal" font-style="normal" fill="#1a1a1a" transform="translate(110.6 101.2) scale(0.95 1)">24.6</text>
<text x="17.7" y="41.6" font-size="8.8" text-anchor="start" font-weight="normal" font-style="normal" fill="#1a1a1a" transform="rotate(-90 17.7 41.6)">IL-17</text>
<line x1="15.8" y1="45.5" x2="15.8" y2="105.4" stroke="#000" stroke-width="1.1"/>
<line x1="30.6" y1="114.5" x2="78.6" y2="114.5" stroke="#000" stroke-width="1.1"/>
<text x="82.8" y="117.2" font-size="9.1" text-anchor="start" font-weight="normal" font-style="normal" fill="#1a1a1a">IL-1RI</text>
<rect x="153.3" y="17.6" width="65.89999999999998" height="84.4" fill="none" stroke="#222" stroke-width="0.9"/>
<line x1="151.10000000000002" y1="102.0" x2="153.3" y2="102.0" stroke="#444" stroke-width="0.7"/>
<text x="147.3" y="104.4" font-size="6.8" text-anchor="end" font-weight="normal" font-style="normal" fill="#1a1a1a">0</text>
<line x1="151.10000000000002" y1="85.12" x2="153.3" y2="85.12" stroke="#444" stroke-width="0.7"/>
<text x="147.3" y="87.52000000000001" font-size="6.8" text-anchor="end" font-weight="normal" font-style="normal" fill="#1a1a1a">100</text>
<line x1="151.10000000000002" y1="68.24" x2="153.3" y2="68.24" stroke="#444" stroke-width="0.7"/>
<text x="147.3" y="70.64" font-size="6.8" text-anchor="end" font-weight="normal" font-style="normal" fill="#1a1a1a">200</text>
<line x1="151.10000000000002" y1="51.36" x2="153.3" y2="51.36" stroke="#444" stroke-width="0.7"/>
<text x="147.3" y="53.76" font-size="6.8" text-anchor="end" font-weight="normal" font-style="normal" fill="#1a1a1a">300</text>
<line x1="151.10000000000002" y1="34.47999999999999" x2="153.3" y2="34.47999999999999" stroke="#444" stroke-width="0.7"/>
<text x="147.3" y="36.87999999999999" font-size="6.8" text-anchor="end" font-weight="normal" font-style="normal" fill="#1a1a1a">400</text>
<line x1="151.10000000000002" y1="17.599999999999994" x2="153.3" y2="17.599999999999994" stroke="#444" stroke-width="0.7"/>
<text x="147.3" y="19.999999999999993" font-size="6.8" text-anchor="end" font-weight="normal" font-style="normal" fill="#1a1a1a">500</text>
<line x1="153.3" y1="102" x2="153.3" y2="103.6" stroke="#222" stroke-width="0.7"/>
<line x1="186.25" y1="102" x2="186.25" y2="103.6" stroke="#222" stroke-width="0.7"/>
<line x1="219.2" y1="102" x2="219.2" y2="103.6" stroke="#222" stroke-width="0.7"/>
<line x1="169.5" y1="80.5624" x2="169.5" y2="83.432" stroke="#222" stroke-width="0.8"/>
<line x1="167.5" y1="80.5624" x2="171.5" y2="80.5624" stroke="#222" stroke-width="0.8"/>
<rect x="161.2" y="83.432" width="16.8" height="18.568" fill="#c4c4c4" stroke="#111" stroke-width="0.9"/>
<line x1="202.6" y1="37.349599999999995" x2="202.6" y2="45.452" stroke="#222" stroke-width="0.8"/>
<line x1="200.6" y1="37.349599999999995" x2="204.6" y2="37.349599999999995" stroke="#222" stroke-width="0.8"/>
<rect x="194.6" y="45.452" width="16.2" height="56.548" fill="#000" stroke="#000" stroke-width="0.6"/>
<text x="164.6" y="33.7" font-size="9.1" text-anchor="start" font-weight="normal" font-style="normal" fill="#1a1a1a"><tspan font-style="italic">P</tspan> = .0003</text>
<text x="169.4" y="114" font-size="5.8" text-anchor="middle" font-weight="bold" font-style="normal" fill="#1a1a1a">IL-17-</text>
<text x="203" y="114" font-size="5.8" text-anchor="middle" font-weight="bold" font-style="normal" fill="#1a1a1a">IL-17+</text>
<text x="129.6" y="60" font-size="8.4" text-anchor="middle" font-weight="normal" font-style="normal" fill="#1a1a1a" transform="rotate(-90 129.6 60)">IL-1RI (MFI)</text>
<text x="1" y="138.6" font-size="11" text-anchor="start" font-weight="bold" font-style="normal" fill="#000">B</text>
<text x="75" y="140.6" font-size="11.6" text-anchor="middle" font-weight="normal" font-style="normal" fill="#1a1a1a">IL-1RI-</text>
<text x="170.6" y="140.6" font-size="11.6" text-anchor="middle" font-weight="normal" font-style="normal" fill="#1a1a1a">IL-1RI+</text>
<clipPath id="cB1"><rect x="28.4" y="148.8" width="87.0" height="85.6"/></clipPath>
<g clip-path="url(#cB1)">
<path d="M73.8 170.5h0.7M72.5 172.4h0.7M61.3 165.8h0.7M70.3 171.8h0.7M69.1 169.0h0.7M68.9 178.1h0.7M53.3 165.9h0.7M84.7 167.4h0.7M55.6 166.8h0.7M58.3 162.1h0.7M69.5 175.9h0.7M71.1 169.9h0.7M74.9 167.2h0.7M62.2 165.4h0.7M70.3 164.4h0.7M63.5 163.9h0.7M57.9 160.1h0.7M67.4 163.9h0.7M68.3 174.1h0.7M70.0 165.8h0.7M60.1 159.8h0.7M70.5 161.0h0.7M70.9 159.8h0.7M68.9 165.6h0.7M74.7 163.7h0.7M65.5 167.4h0.7M68.4 175.8h0.7M66.3 162.9h0.7M65.8 168.7h0.7M69.6 170.0h0.7M58.7 180.3h0.7M80.4 165.8h0.7M59.9 166.9h0.7M70.8 153.1h0.7M68.1 157.5h0.7M71.1 174.0h0.7M75.0 157.3h0.7M77.3 171.2h0.7M65.6 168.9h0.7M78.2 164.1h0.7M67.9 162.8h0.7M75.8 153.6h0.7M77.6 160.4h0.7M74.2 156.6h0.7M61.7 162.5h0.7M73.6 156.6h0.7M72.1 162.3h0.7M76.4 164.2h0.7M71.3 165.0h0.7M80.1 163.9h0.7M67.8 177.5h0.7M68.5 170.0h0.7M63.0 167.2h0.7M52.7 166.6h0.7M63.6 157.3h0.7M58.5 172.6h0.7M70.9 157.2h0.7M80.2 162.0h0.7M65.5 167.4h0.7M60.3 156.7h0.7M63.0 172.8h0.7M74.4 156.9h0.7M76.1 166.2h0.7M71.4 166.3h0.7M70.8 160.2h0.7M61.9 161.9h0.7M65.5 169.6h0.7M59.8 175.2h0.7M63.7 162.6h0.7M72.7 168.5h0.7M65.7 159.8h0.7M61.3 156.8h0.7M75.7 172.3h0.7M80.6 168.9h0.7M70.2 170.4h0.7M74.4 164.5h0.7M70.4 178.4h0.7M56.6 157.9h0.7M61.5 170.4h0.7M76.0 164.0h0.7M72.5 165.7h0.7M70.0 162.9h0.7M67.8 166.0h0.7M75.6 178.9h0.7M55.8 169.1h0.7M68.0 171.6h0.7M75.2 170.5h0.7M73.5 160.5h0.7M56.5 175.6h0.7M76.1 160.5h0.7M76.7 169.9h0.7M51.5 171.2h0.7M61.3 172.7h0.7M63.4 161.7h0.7M57.6 164.7h0.7M74.9 162.1h0.7M55.5 178.4h0.7M80.4 170.0h0.7M64.4 159.0h0.7M57.0 169.2h0.7M76.8 159.9h0.7M68.0 164.4h0.7M66.3 168.9h0.7M82.1 162.3h0.7M73.7 172.3h0.7M66.1 165.1h0.7M59.0 172.2h0.7M64.4 162.2h0.7M68.5 161.0h0.7M61.0 164.3h0.7M78.0 164.8h0.7M71.6 157.5h0.7M54.9 176.5h0.7M65.3 157.1h0.7M67.3 169.5h0.7M56.3 160.9h0.7M69.8 160.7h0.7M73.4 171.6h0.7M71.0 163.5h0.7M67.7 162.3h0.7M67.1 167.8h0.7M66.0 171.6h0.7M85.5 162.8h0.7M70.3 170.8h0.7M72.4 164.6h0.7M64.8 171.8h0.7M72.2 168.9h0.7M62.6 169.7h0.7M73.4 164.9h0.7M72.4 178.6h0.7M55.3 169.5h0.7M60.1 158.1h0.7M66.4 169.2h0.7M68.4 159.2h0.7M58.3 162.8h0.7M68.1 161.2h0.7M57.8 176.2h0.7M62.3 165.1h0.7M64.3 162.6h0.7M68.3 164.3h0.7M72.2 159.1h0.7M57.9 177.3h0.7M67.5 170.5h0.7M76.0 169.2h0.7M68.2 157.0h0.7M57.2 171.7h0.7M72.6 169.3h0.7M56.8 153.6h0.7M60.8 159.1h0.7M69.1 160.1h0.7M78.7 162.4h0.7M64.2 171.0h0.7M70.2 160.8h0.7M73.6 177.2h0.7M59.7 164.6h0.7M60.7 154.7h0.7M72.3 170.1h0.7M74.6 168.5h0.7M54.3 165.8h0.7M63.5 159.1h0.7" stroke="#555" stroke-width="0.7" stroke-opacity="0.55" fill="none"/>
<path d="M67.5 201.8h0.7M73.0 209.4h0.7M81.1 204.9h0.7M75.2 189.3h0.7M82.4 204.5h0.7M74.6 199.4h0.7M64.6 189.7h0.7M74.3 201.5h0.7M75.5 199.8h0.7M77.1 191.2h0.7M74.2 194.6h0.7M78.3 192.1h0.7M84.9 197.2h0.7M78.6 201.0h0.7M82.1 199.6h0.7M63.0 193.0h0.7M87.7 200.0h0.7M78.8 200.0h0.7M70.6 192.7h0.7M70.6 204.4h0.7M77.5 208.3h0.7M78.4 209.0h0.7M78.1 189.5h0.7M86.9 199.1h0.7M83.2 198.4h0.7M72.8 198.1h0.7M67.3 189.4h0.7M68.9 193.7h0.7M65.7 196.3h0.7M77.1 209.9h0.7M87.6 196.7h0.7M81.1 195.6h0.7M77.7 196.8h0.7M71.3 197.5h0.7M64.8 199.8h0.7M73.0 190.1h0.7M72.5 200.5h0.7M70.3 200.0h0.7M78.9 207.0h0.7M67.5 196.3h0.7M78.5 206.6h0.7M76.8 201.8h0.7M64.9 193.3h0.7M86.4 195.2h0.7M89.9 192.3h0.7M79.4 198.7h0.7M88.9 198.1h0.7M74.4 203.1h0.7M80.1 204.9h0.7M81.0 196.7h0.7M79.2 198.1h0.7M65.8 208.0h0.7M77.6 190.3h0.7M77.7 198.8h0.7M81.9 206.3h0.7M54.0 200.6h0.7M85.6 190.9h0.7M62.1 198.8h0.7M77.3 199.3h0.7M67.3 194.0h0.7M76.3 201.8h0.7M90.2 198.9h0.7M82.4 196.2h0.7M74.2 190.6h0.7M75.8 197.8h0.7M77.1 205.4h0.7M74.3 197.6h0.7M73.0 197.4h0.7M81.6 191.8h0.7M80.6 199.5h0.7M65.0 197.9h0.7M76.4 201.7h0.7M80.7 193.4h0.7M82.4 202.3h0.7M78.3 200.1h0.7M66.1 199.3h0.7M67.8 189.3h0.7M72.6 197.9h0.7M74.6 194.9h0.7M68.0 198.2h0.7M75.6 206.4h0.7M72.2 190.1h0.7M84.6 208.1h0.7M73.0 195.6h0.7M76.5 216.1h0.7M75.9 203.4h0.7M67.3 189.0h0.7M78.0 197.7h0.7M87.5 195.3h0.7M77.1 197.5h0.7M76.0 212.0h0.7M77.0 206.5h0.7M84.0 193.1h0.7M79.8 194.5h0.7M75.8 198.0h0.7M75.1 194.0h0.7M85.9 195.3h0.7M79.9 207.9h0.7M79.4 203.6h0.7M84.7 204.1h0.7M88.7 197.2h0.7M62.8 192.8h0.7M65.3 196.9h0.7M64.6 190.5h0.7M77.1 198.0h0.7M69.4 195.5h0.7M74.3 197.5h0.7M75.0 195.6h0.7M71.6 197.9h0.7M72.2 193.4h0.7M71.9 198.4h0.7M83.7 195.8h0.7M73.1 199.3h0.7M76.9 194.5h0.7M71.0 201.1h0.7M75.3 193.3h0.7M75.1 196.2h0.7M78.1 198.4h0.7M67.3 196.1h0.7M67.0 201.9h0.7M86.4 190.6h0.7M74.6 195.4h0.7M62.0 202.6h0.7M82.1 211.1h0.7M64.8 200.6h0.7M74.9 202.5h0.7M71.4 201.7h0.7M81.3 200.9h0.7M85.1 195.9h0.7M85.8 192.4h0.7M75.1 191.8h0.7M75.0 203.7h0.7M80.0 197.6h0.7M69.3 206.8h0.7M77.4 189.3h0.7M85.3 204.4h0.7M71.2 205.4h0.7M69.2 203.0h0.7M79.1 196.2h0.7M65.0 195.2h0.7M59.0 193.3h0.7M62.0 204.9h0.7M79.1 199.4h0.7M71.5 210.8h0.7M80.4 197.4h0.7M78.4 203.2h0.7M75.1 202.0h0.7M85.6 198.7h0.7M76.4 201.9h0.7M84.8 194.9h0.7M66.4 191.9h0.7M66.2 191.2h0.7M74.2 199.2h0.7M76.1 197.5h0.7M72.5 199.8h0.7M81.2 201.9h0.7M85.5 195.1h0.7M73.2 208.0h0.7M76.4 199.7h0.7M72.6 203.3h0.7M72.2 190.5h0.7M74.6 194.1h0.7M80.8 194.5h0.7M75.9 195.6h0.7M77.4 192.9h0.7M72.3 192.4h0.7M79.5 197.3h0.7M78.4 194.9h0.7M70.0 189.7h0.7M72.7 193.5h0.7M77.0 199.3h0.7M81.8 196.3h0.7M69.8 190.1h0.7M75.4 199.3h0.7M88.6 198.2h0.7M87.3 209.2h0.7M67.7 204.9h0.7M83.0 205.7h0.7M74.9 203.2h0.7M71.6 196.5h0.7M75.1 208.6h0.7M73.5 203.2h0.7M75.5 192.4h0.7M76.7 201.3h0.7M70.0 201.1h0.7M70.0 191.3h0.7M76.5 195.5h0.7M75.2 198.6h0.7M71.8 198.2h0.7M64.3 199.6h0.7" stroke="#555" stroke-width="0.7" stroke-opacity="0.55" fill="none"/>
<path d="M53.7 195.6h0.7M49.5 191.6h0.7M52.5 211.4h0.7M53.1 195.1h0.7M49.1 207.2h0.7M56.7 180.1h0.7M54.6 196.2h0.7M51.8 164.3h0.7M59.0 152.7h0.7M53.2 182.5h0.7M56.6 181.5h0.7M52.2 202.2h0.7M53.8 179.6h0.7M54.7 197.8h0.7M56.0 179.8h0.7M51.8 182.2h0.7M48.7 195.1h0.7M53.6 218.3h0.7M50.7 197.7h0.7M56.6 187.7h0.7M52.3 192.7h0.7M49.2 170.3h0.7M56.5 193.5h0.7M51.7 165.2h0.7M52.5 213.4h0.7M47.4 172.2h0.7M56.4 218.5h0.7M58.2 179.0h0.7M54.4 175.0h0.7M54.1 182.7h0.7M52.8 216.7h0.7M53.3 185.2h0.7M52.2 195.3h0.7M50.0 194.1h0.7M54.4 221.0h0.7M47.1 207.4h0.7M52.5 212.6h0.7M50.0 180.4h0.7M53.4 178.4h0.7M56.4 189.9h0.7M50.2 208.4h0.7M48.7 214.8h0.7M55.8 192.8h0.7M55.9 221.9h0.7M57.5 190.0h0.7M51.8 212.0h0.7M53.9 201.3h0.7M59.4 224.9h0.7M53.3 198.8h0.7M53.0 185.5h0.7M52.2 202.1h0.7M48.2 178.8h0.7M47.8 156.3h0.7M55.1 185.8h0.7M55.8 182.7h0.7M52.6 192.3h0.7M51.2 206.0h0.7M59.9 181.6h0.7M47.7 201.8h0.7M56.2 160.5h0.7" stroke="#555" stroke-width="0.7" stroke-opacity="0.5" fill="none"/>
<path d="M47.0 153.5C47.8 153.8 50.4 154.2 52.0 155.5C53.6 156.8 56.2 158.6 56.8 161.0C57.4 163.4 55.8 166.5 55.5 170.0C55.2 173.5 54.9 177.7 55.0 182.0C55.1 186.3 56.1 191.3 56.0 196.0C55.9 200.7 55.3 206.0 54.5 210.0C53.7 214.0 52.2 217.4 51.0 220.0C49.8 222.6 48.1 224.6 47.5 225.5" stroke="#555" stroke-width="0.5" fill="none" stroke-opacity="1"/>
<path d="M47.0 156.5C47.6 157.1 49.6 158.1 50.5 160.0C51.4 161.9 52.1 164.7 52.2 168.0C52.3 171.3 51.2 175.7 51.2 180.0C51.2 184.3 52.2 189.3 52.2 194.0C52.2 198.7 51.7 204.2 51.2 208.0C50.7 211.8 49.7 214.8 49.0 217.0C48.3 219.2 47.3 220.3 47.0 221.0" stroke="#666" stroke-width="0.5" fill="none" stroke-opacity="1"/>
<path d="M38.8 158.9L38.8 224.1M39.9 155.7L39.9 222.5M40.9 158.9L40.9 224.5M42.0 159.8L42.0 226.4M43.1 160.8L43.1 222.2M44.2 155.5L44.2 226.4M45.2 158.4L45.2 222.1M46.3 159.2L46.3 222.5M47.4 156.4L47.4 223.2" stroke="#333" stroke-width="0.55" fill="none" opacity="0.55"/>
<path d="M38.4 157.6C39.4 156.3 41.5 156.2 43.0 156.2C44.5 156.2 46.6 156.3 47.6 157.6C48.6 158.9 48.7 161.4 48.8 163.9C48.8 166.5 48.4 170.3 48.2 173.2C47.9 176.0 47.7 178.7 47.4 181.2C47.0 183.7 46.9 186.6 46.2 188.1C45.6 189.6 44.5 190.4 43.6 190.4C42.7 190.4 41.6 189.6 40.9 188.1C40.2 186.6 39.8 183.7 39.3 181.2C38.8 178.7 38.3 176.0 37.9 173.2C37.6 170.3 37.2 166.5 37.2 163.9C37.3 161.4 37.4 158.9 38.4 157.6Z" fill="#666" opacity="0.4" filter="url(#bl2)"/>
<path d="M39.0 159.5C39.8 158.4 41.7 158.3 43.0 158.3C44.3 158.3 46.2 158.4 47.0 159.5C47.8 160.6 47.9 162.8 48.0 165.0C48.1 167.2 47.7 170.5 47.5 173.0C47.3 175.5 47.1 177.8 46.8 180.0C46.5 182.2 46.3 184.7 45.8 186.0C45.2 187.3 44.3 188.0 43.5 188.0C42.7 188.0 41.8 187.3 41.2 186.0C40.6 184.7 40.2 182.2 39.8 180.0C39.4 177.8 38.9 175.5 38.6 173.0C38.3 170.5 37.9 167.2 38.0 165.0C38.1 162.8 38.2 160.6 39.0 159.5Z" fill="url(#gB)" filter="url(#bl)"/>
<path d="M44.8 178.5h0.6M45.4 164.5h0.6M42.7 180.7h0.6M46.0 181.7h0.6M42.8 160.1h0.6M45.1 181.8h0.6M39.8 181.2h0.6M45.9 187.3h0.6M42.3 170.7h0.6M40.1 187.2h0.6M47.6 175.7h0.6M40.3 186.2h0.6M41.6 183.0h0.6M45.7 181.5h0.6M40.2 166.9h0.6M40.7 170.1h0.6M39.4 162.3h0.6M42.2 175.6h0.6M43.8 164.7h0.6M43.8 187.0h0.6M45.0 174.3h0.6M39.8 176.4h0.6M38.2 177.5h0.6M39.6 181.8h0.6M47.6 174.6h0.6M46.4 183.6h0.6M44.3 181.1h0.6M47.7 182.4h0.6M45.7 169.5h0.6M40.6 172.7h0.6M44.0 184.7h0.6M46.8 185.2h0.6M40.0 179.9h0.6M43.3 160.7h0.6M40.7 182.8h0.6M38.0 164.3h0.6M45.0 168.7h0.6M40.3 159.4h0.6M45.1 171.7h0.6M38.2 187.8h0.6M47.3 166.4h0.6M39.5 187.5h0.6M43.2 173.7h0.6M42.2 173.3h0.6M40.6 177.4h0.6M38.8 163.5h0.6M38.9 168.3h0.6M45.0 180.7h0.6M45.9 171.6h0.6M41.4 182.9h0.6M39.9 177.7h0.6M43.6 186.7h0.6M39.5 163.3h0.6M41.9 182.1h0.6M40.3 182.6h0.6M46.0 184.2h0.6M43.9 165.5h0.6M45.1 169.3h0.6M45.9 184.4h0.6M38.9 170.6h0.6M43.7 181.5h0.6M39.9 167.4h0.6M39.1 179.8h0.6M40.4 180.9h0.6M42.2 171.5h0.6M45.2 178.7h0.6M45.2 162.0h0.6M40.9 170.3h0.6M44.9 181.0h0.6M47.0 180.5h0.6M41.1 169.8h0.6M40.6 181.5h0.6M40.3 168.1h0.6M46.3 183.7h0.6M47.6 182.6h0.6M41.1 184.2h0.6M45.2 173.2h0.6M44.1 163.5h0.6M38.5 165.3h0.6M39.5 178.2h0.6M46.8 186.8h0.6M40.0 177.0h0.6M43.1 166.6h0.6M41.6 178.4h0.6M43.3 182.6h0.6M39.1 183.8h0.6M41.9 164.3h0.6M40.5 177.5h0.6M40.2 181.6h0.6M42.8 173.2h0.6M45.7 182.5h0.6M42.5 174.7h0.6M47.3 186.7h0.6M39.0 180.6h0.6M44.4 176.8h0.6M38.4 172.1h0.6M47.1 187.7h0.6M42.7 167.0h0.6M41.0 180.6h0.6M45.5 164.2h0.6M42.4 183.7h0.6M41.9 165.1h0.6M47.6 165.5h0.6M40.9 163.3h0.6M39.4 183.6h0.6M38.7 166.0h0.6M43.3 168.3h0.6M39.7 184.9h0.6M45.6 168.7h0.6M41.4 176.1h0.6M40.4 166.8h0.6M39.2 187.5h0.6M45.4 171.5h0.6M47.0 186.0h0.6M47.6 177.2h0.6M40.9 180.2h0.6M45.2 177.1h0.6M39.3 183.0h0.6M47.6 169.4h0.6M46.1 166.1h0.6M40.5 173.8h0.6M42.7 171.4h0.6M39.5 187.8h0.6M41.2 185.3h0.6M45.4 168.7h0.6M39.9 173.9h0.6M46.2 175.9h0.6M43.7 185.5h0.6M45.6 160.2h0.6M47.0 180.3h0.6M41.3 187.1h0.6M46.2 185.2h0.6M41.7 171.7h0.6M41.5 174.8h0.6M39.1 174.9h0.6M47.1 170.5h0.6M44.4 175.7h0.6M45.6 185.9h0.6M47.2 171.1h0.6M47.9 184.4h0.6M45.5 182.9h0.6M40.5 184.5h0.6M41.8 181.4h0.6M39.3 185.0h0.6M41.4 178.8h0.6M41.5 184.7h0.6M46.5 185.1h0.6M39.4 185.8h0.6M45.4 186.9h0.6M44.5 181.8h0.6M46.7 163.1h0.6M42.6 179.0h0.6M45.8 173.8h0.6M46.7 183.9h0.6M41.4 170.1h0.6M39.0 171.2h0.6M38.3 173.5h0.6M40.3 184.2h0.6M38.7 164.4h0.6M40.0 183.1h0.6M42.0 177.0h0.6M47.5 184.3h0.6M44.3 173.0h0.6" stroke="#fff" stroke-width="0.6" stroke-opacity="0.35" fill="none"/>
<path d="M39.6 183.6L39.6 194.9M40.6 183.6L40.6 195.9M41.7 181.2L41.7 196.5M42.7 182.3L42.7 193.4M43.7 182.3L43.7 196.3M44.7 182.1L44.7 194.9M45.8 181.7L45.8 196.5M46.8 182.7L46.8 193.8" stroke="#222" stroke-width="0.7" fill="none" opacity="0.7"/>
<path d="M38.2 190.8C39.2 189.3 41.3 189.0 43.0 189.0C44.7 189.0 47.1 189.1 48.2 190.8C49.2 192.4 49.3 195.9 49.4 198.8C49.6 201.7 49.3 205.1 49.1 208.0C48.9 210.9 48.6 213.6 48.2 216.1C47.7 218.5 47.3 221.1 46.5 222.9C45.6 224.8 44.1 226.7 43.0 227.0C41.9 227.3 40.5 226.5 39.5 224.7C38.6 222.9 37.9 219.0 37.5 216.1C37.0 213.1 36.9 209.9 36.8 206.8C36.7 203.8 36.8 200.3 37.0 197.7C37.2 195.0 37.2 192.2 38.2 190.8Z" fill="#666" opacity="0.4" filter="url(#bl2)"/>
<path d="M38.8 193.0C39.7 191.8 41.5 191.5 43.0 191.5C44.5 191.5 46.6 191.6 47.5 193.0C48.4 194.4 48.5 197.5 48.6 200.0C48.7 202.5 48.5 205.5 48.3 208.0C48.1 210.5 47.9 212.8 47.5 215.0C47.1 217.2 46.8 219.4 46.0 221.0C45.2 222.6 44.0 224.2 43.0 224.5C42.0 224.8 40.8 224.1 40.0 222.5C39.2 220.9 38.6 217.6 38.2 215.0C37.8 212.4 37.7 209.7 37.6 207.0C37.5 204.3 37.6 201.3 37.8 199.0C38.0 196.7 37.9 194.2 38.8 193.0Z" fill="url(#gB)" filter="url(#bl)"/>
<path d="M41.6 209.4h0.6M45.3 223.7h0.6M47.7 201.0h0.6M44.1 195.9h0.6M45.5 211.5h0.6M38.6 211.4h0.6M46.6 213.9h0.6M41.5 220.1h0.6M45.8 204.9h0.6M40.0 220.4h0.6M48.5 222.1h0.6M41.8 211.5h0.6M47.8 218.4h0.6M40.9 204.1h0.6M45.7 208.4h0.6M43.6 203.6h0.6M45.0 213.3h0.6M48.1 201.8h0.6M43.8 224.5h0.6M39.6 220.3h0.6M43.7 222.7h0.6M47.2 219.5h0.6M47.8 209.4h0.6M37.9 204.3h0.6M47.5 213.3h0.6M48.1 222.5h0.6M47.9 213.6h0.6M39.2 214.8h0.6M46.4 216.5h0.6M44.2 211.2h0.6M40.6 206.2h0.6M43.2 211.1h0.6M38.6 212.4h0.6M41.3 193.0h0.6M45.8 218.5h0.6M40.4 205.4h0.6M39.5 213.7h0.6M47.5 215.9h0.6M44.0 204.1h0.6M45.8 218.6h0.6M45.4 218.4h0.6M46.8 206.6h0.6M38.2 223.0h0.6M42.5 223.4h0.6M38.4 199.1h0.6M45.1 220.3h0.6M42.7 201.7h0.6M48.6 216.7h0.6M46.0 208.7h0.6M39.8 205.7h0.6M42.1 202.5h0.6M40.9 216.2h0.6M40.0 202.6h0.6M39.7 199.0h0.6M43.2 208.0h0.6M42.9 203.4h0.6M48.3 211.7h0.6M48.0 212.9h0.6M39.8 212.5h0.6M39.2 215.6h0.6M38.4 202.9h0.6M48.2 218.2h0.6M41.5 210.6h0.6M41.5 211.3h0.6M41.9 217.9h0.6M47.1 202.2h0.6M37.7 215.1h0.6M45.6 221.4h0.6M44.5 209.2h0.6M42.0 222.9h0.6M40.9 211.5h0.6M44.9 214.7h0.6M48.0 218.9h0.6M41.6 201.9h0.6M46.3 221.5h0.6M45.0 215.5h0.6M48.0 208.8h0.6M42.0 214.5h0.6M38.9 203.4h0.6M46.4 222.4h0.6M41.2 195.3h0.6M43.1 212.7h0.6M47.4 209.5h0.6M43.5 209.1h0.6M44.6 223.1h0.6M41.3 212.7h0.6M44.3 210.2h0.6M40.5 220.1h0.6M41.9 209.7h0.6M47.6 209.5h0.6M40.6 214.3h0.6M46.6 208.5h0.6M45.2 202.5h0.6M39.7 194.8h0.6M46.5 197.6h0.6M40.1 201.9h0.6M40.5 197.5h0.6M45.5 218.9h0.6M48.0 222.7h0.6M47.7 214.6h0.6M47.8 199.3h0.6M39.7 211.5h0.6M47.0 219.2h0.6M38.6 210.1h0.6M45.9 221.9h0.6M48.3 215.7h0.6M38.2 196.1h0.6M37.8 200.9h0.6M44.5 218.3h0.6M39.4 200.4h0.6M44.3 203.3h0.6M48.3 217.5h0.6M48.4 209.4h0.6M41.9 211.5h0.6M40.2 206.0h0.6M48.5 224.0h0.6M39.5 218.3h0.6M39.3 203.3h0.6M45.7 209.1h0.6M43.4 197.5h0.6M38.0 217.7h0.6M46.3 211.7h0.6M42.6 215.2h0.6M44.2 222.1h0.6M42.0 208.7h0.6M47.1 223.4h0.6M43.8 222.8h0.6M39.5 201.8h0.6M45.2 210.1h0.6M46.4 192.8h0.6M43.3 220.1h0.6M46.4 193.0h0.6M45.0 210.9h0.6M45.6 215.0h0.6M48.2 210.8h0.6M47.8 223.6h0.6M41.1 216.2h0.6M40.6 209.9h0.6M46.3 222.6h0.6M46.6 220.1h0.6M45.2 224.3h0.6M45.9 208.1h0.6M44.3 206.3h0.6M47.0 202.4h0.6M40.6 213.0h0.6M38.5 222.9h0.6M45.9 223.1h0.6M46.0 202.0h0.6M47.6 215.1h0.6M42.3 215.5h0.6M38.6 223.2h0.6M38.7 219.9h0.6M38.9 206.8h0.6M42.5 221.9h0.6M40.4 218.7h0.6M44.7 218.8h0.6M43.0 199.7h0.6M40.0 218.6h0.6M40.7 217.1h0.6M47.7 209.7h0.6M48.6 223.4h0.6M43.9 211.3h0.6M45.9 220.5h0.6M47.1 212.1h0.6M48.1 210.6h0.6M38.9 212.6h0.6M39.2 219.2h0.6M38.2 217.7h0.6M43.6 224.3h0.6M39.0 219.1h0.6M41.7 216.7h0.6M46.6 205.8h0.6M42.9 195.8h0.6M47.0 199.1h0.6M38.0 222.3h0.6M42.8 212.3h0.6M45.6 218.6h0.6M47.9 208.9h0.6M39.1 203.5h0.6M38.9 220.7h0.6M43.1 203.5h0.6M39.4 208.7h0.6M42.8 223.1h0.6M40.4 220.1h0.6M40.0 222.7h0.6M44.3 222.6h0.6M46.1 223.9h0.6M43.5 216.5h0.6M42.5 221.5h0.6M47.7 199.7h0.6M45.1 220.5h0.6M40.2 219.2h0.6M46.7 212.3h0.6M47.8 223.7h0.6M45.1 202.5h0.6M42.1 214.7h0.6M39.1 202.8h0.6M43.0 212.5h0.6M41.6 206.5h0.6" stroke="#fff" stroke-width="0.6" stroke-opacity="0.35" fill="none"/>
<path d="M40.2 162.3L40.2 185.6M43.4 162.5L43.4 182.0M46.6 164.3L46.6 183.2" stroke="#888" stroke-width="0.35" fill="none" opacity="0.6"/>
<path d="M40.0 198.8L40.0 222.9M43.5 193.8L43.5 220.5M47.0 198.8L47.0 219.3" stroke="#888" stroke-width="0.35" fill="none" opacity="0.6"/>
<line x1="43.7" y1="162" x2="43.7" y2="168.2" stroke="#fff" stroke-width="1.1" stroke-linecap="round"/>
<line x1="43.2" y1="195.5" x2="43.2" y2="206" stroke="#fff" stroke-width="0.9" stroke-linecap="round"/>
<path d="M62.2 164.5C62.7 163.7 64.5 162.6 66.2 162.5C67.9 162.4 71.0 162.9 72.3 163.7C73.5 164.5 74.0 165.8 73.7 167.1C73.4 168.3 71.8 170.8 70.7 171.2C69.6 171.6 68.5 170.4 67.2 169.7C66.0 169.0 64.0 168.0 63.2 167.1C62.4 166.2 61.7 165.3 62.2 164.5Z" stroke="#222" stroke-width="0.6" fill="none" stroke-opacity="1"/>
<path d="M72.6 196.0C73.1 195.1 74.5 193.9 75.6 193.7C76.7 193.4 78.6 193.8 79.4 194.5C80.2 195.2 80.6 196.9 80.4 198.0C80.2 199.1 79.4 200.7 78.5 201.3C77.6 201.9 75.8 201.9 74.8 201.5C73.8 201.1 72.9 199.9 72.5 199.0C72.1 198.1 72.1 196.9 72.6 196.0Z" stroke="#222" stroke-width="0.6" fill="none" stroke-opacity="1"/>
<path d="M65.6 233.6h0.8M43.3 233.7h0.8M38.1 233.4h0.8M66.6 234.3h0.8M91.6 233.4h0.8M91.7 233.2h0.8M71.2 232.6h0.8M73.5 233.3h0.8M53.4 233.3h0.8M93.0 233.3h0.8M45.9 233.8h0.8M30.6 233.6h0.8M66.0 233.8h0.8M37.7 234.2h0.8M84.4 233.2h0.8M90.2 232.9h0.8M94.5 233.3h0.8M30.1 232.9h0.8M33.2 232.4h0.8M50.3 234.2h0.8M67.0 234.1h0.8M88.7 233.6h0.8M68.3 233.6h0.8M43.2 233.5h0.8M41.7 233.7h0.8M90.6 233.4h0.8M47.4 234.0h0.8M51.0 233.2h0.8M92.8 233.0h0.8M34.4 234.0h0.8M84.0 233.8h0.8M78.5 233.6h0.8M47.6 233.9h0.8M73.0 234.0h0.8M92.0 235.2h0.8M70.5 233.5h0.8M72.5 234.0h0.8M65.8 234.3h0.8M53.3 233.9h0.8M39.2 233.4h0.8M40.3 234.0h0.8M82.1 234.1h0.8M40.4 232.9h0.8M66.4 233.6h0.8M56.8 233.5h0.8M33.8 233.6h0.8M57.5 233.7h0.8M45.7 234.4h0.8M83.6 233.6h0.8M61.0 233.8h0.8M55.2 233.2h0.8M44.5 234.3h0.8M73.6 233.9h0.8M62.7 233.1h0.8M90.0 233.3h0.8M34.5 233.4h0.8M35.3 233.5h0.8M72.2 233.8h0.8M57.5 233.4h0.8M90.9 234.2h0.8M45.9 233.8h0.8M51.1 234.0h0.8M89.1 233.5h0.8M40.8 233.1h0.8M33.0 234.3h0.8M72.1 234.3h0.8M40.2 233.5h0.8M62.9 233.5h0.8M51.8 234.3h0.8M76.6 234.1h0.8" stroke="#111" stroke-width="0.8" stroke-opacity="0.85" fill="none"/>
<path d="M28.9 205.2h0.8M29.2 187.5h0.8M29.1 222.7h0.8M29.0 155.3h0.8M29.3 169.9h0.8M29.7 161.6h0.8M28.6 180.1h0.8M27.7 175.0h0.8M29.0 185.1h0.8M28.9 206.6h0.8M28.9 160.3h0.8M29.3 195.7h0.8M30.3 162.5h0.8M29.1 192.7h0.8M28.9 205.2h0.8M29.2 192.2h0.8M29.3 225.0h0.8M28.8 216.1h0.8M28.9 191.3h0.8M29.2 164.5h0.8M28.9 198.4h0.8M28.5 228.2h0.8M30.0 215.1h0.8M29.4 163.5h0.8M29.1 198.7h0.8M29.3 209.2h0.8M28.8 182.5h0.8M29.8 208.4h0.8M29.0 187.8h0.8M30.6 155.3h0.8M29.9 219.9h0.8M29.6 202.8h0.8M29.8 208.8h0.8M30.0 163.6h0.8M28.7 155.3h0.8" stroke="#111" stroke-width="0.8" stroke-opacity="0.85" fill="none"/>
</g>
<rect x="28.4" y="148.8" width="87.0" height="85.6" fill="none" stroke="#222" stroke-width="0.9"/>
<line x1="58.5" y1="148.8" x2="58.5" y2="234.4" stroke="#333" stroke-width="0.7"/>
<line x1="28.4" y1="188.5" x2="115.4" y2="188.5" stroke="#333" stroke-width="0.7"/>
<line x1="27.2" y1="160" x2="28.4" y2="160" stroke="#222" stroke-width="0.6"/>
<line x1="27.2" y1="176" x2="28.4" y2="176" stroke="#222" stroke-width="0.6"/>
<line x1="27.2" y1="192" x2="28.4" y2="192" stroke="#222" stroke-width="0.6"/>
<line x1="27.2" y1="208" x2="28.4" y2="208" stroke="#222" stroke-width="0.6"/>
<line x1="27.2" y1="224" x2="28.4" y2="224" stroke="#222" stroke-width="0.6"/>
<rect x="30" y="151" width="16.5" height="7.2" fill="#fff"/>
<rect x="30" y="226.3" width="16.5" height="7.2" fill="#fff"/>
<text x="0" y="0" font-size="8.3" text-anchor="start" font-weight="normal" font-style="normal" fill="#1a1a1a" transform="translate(30 157.8) scale(0.95 1)">39.8</text>
<text x="0" y="0" font-size="8.3" text-anchor="end" font-weight="normal" font-style="normal" fill="#1a1a1a" transform="translate(114.6 157.8) scale(0.95 1)">2.09</text>
<text x="0" y="0" font-size="8.3" text-anchor="start" font-weight="normal" font-style="normal" fill="#1a1a1a" transform="translate(30 233.0) scale(0.95 1)">56.2</text>
<text x="0" y="0" font-size="8.3" text-anchor="end" font-weight="normal" font-style="normal" fill="#1a1a1a" transform="translate(114.6 233.0) scale(0.95 1)">1.94</text>
<text x="23.2" y="176.8" font-size="8.8" text-anchor="start" font-weight="normal" font-style="normal" fill="#1a1a1a" transform="rotate(-90 23.2 176.8)">IFN-<tspan font-size="6.2" dy="1.2">γ</tspan></text>
<path d="M20.1 183.6V242.6H173.8" fill="none" stroke="#000" stroke-width="1.1"/>
<text x="180.8" y="246.2" font-size="8.9" text-anchor="start" font-weight="normal" font-style="normal" fill="#1a1a1a">IL-17</text>
<clipPath id="cB2"><rect x="127.4" y="148.8" width="87.0" height="85.39999999999998"/></clipPath>
<g clip-path="url(#cB2)">
<path d="M182.2 180.1h0.7M191.9 176.0h0.7M152.5 151.8h0.7M158.1 158.5h0.7M152.9 166.5h0.7M169.3 161.7h0.7M170.7 167.5h0.7M180.3 160.0h0.7M171.1 173.2h0.7M179.9 161.3h0.7M171.8 160.4h0.7M179.2 176.4h0.7M183.3 169.5h0.7M188.9 167.5h0.7M155.3 165.2h0.7M171.2 181.6h0.7M166.6 166.7h0.7M177.9 160.5h0.7M181.1 176.3h0.7M161.6 171.3h0.7M165.1 163.9h0.7M174.8 169.1h0.7M180.9 172.4h0.7M155.7 173.7h0.7M179.0 174.8h0.7M157.8 166.3h0.7M159.3 169.5h0.7M164.5 179.9h0.7M177.2 158.8h0.7M169.7 187.9h0.7M168.2 173.1h0.7M181.0 184.4h0.7M183.2 171.2h0.7M160.5 167.1h0.7M177.8 157.8h0.7M173.3 185.8h0.7M160.1 178.5h0.7M164.1 165.1h0.7M176.1 177.7h0.7M171.0 176.0h0.7M178.8 187.5h0.7M162.8 163.4h0.7M189.0 179.3h0.7M165.3 177.5h0.7M188.1 168.8h0.7M175.6 179.9h0.7M165.8 162.3h0.7M180.1 171.9h0.7M174.0 165.2h0.7M178.2 180.7h0.7M172.7 172.6h0.7M163.0 166.6h0.7M159.4 172.7h0.7M173.9 166.3h0.7M159.8 170.4h0.7M178.4 184.1h0.7M154.7 173.2h0.7M185.2 164.9h0.7M168.0 179.8h0.7M174.0 164.5h0.7M161.3 167.4h0.7M171.7 173.8h0.7M180.4 164.6h0.7M176.8 175.7h0.7M169.1 178.6h0.7M171.4 176.2h0.7M166.1 164.5h0.7M166.9 187.6h0.7M176.2 174.6h0.7M164.6 173.7h0.7M160.7 175.0h0.7M171.7 167.3h0.7M176.9 161.0h0.7M159.7 178.2h0.7M161.4 159.7h0.7M183.7 177.5h0.7M176.7 172.2h0.7M161.2 175.9h0.7M171.8 166.0h0.7M173.6 176.0h0.7M172.1 179.3h0.7M177.2 162.2h0.7M176.9 168.6h0.7M169.1 177.2h0.7M182.4 163.3h0.7M172.4 176.0h0.7M166.7 178.1h0.7M165.5 165.6h0.7M183.9 165.2h0.7M184.6 169.0h0.7M175.6 165.9h0.7M161.7 168.2h0.7M179.9 176.6h0.7M164.5 152.4h0.7M184.4 166.1h0.7M179.8 179.0h0.7M184.5 167.0h0.7M162.6 166.6h0.7M176.1 174.5h0.7M161.3 176.3h0.7M163.6 171.8h0.7M169.6 176.3h0.7M158.3 161.8h0.7M172.2 173.8h0.7M177.8 163.5h0.7M159.8 171.3h0.7M186.4 180.1h0.7M182.4 177.1h0.7M182.5 167.5h0.7M183.6 178.9h0.7M180.6 168.4h0.7M168.4 167.1h0.7M186.1 160.1h0.7M168.0 174.2h0.7M159.2 173.7h0.7M182.6 177.6h0.7M160.7 172.2h0.7M180.4 177.7h0.7M158.9 181.7h0.7M176.8 186.3h0.7M169.2 170.1h0.7M191.2 179.5h0.7M188.8 170.4h0.7M171.8 179.5h0.7M165.1 178.6h0.7M158.6 154.5h0.7M167.9 177.6h0.7M192.5 170.9h0.7M173.9 170.3h0.7M175.2 183.3h0.7M178.1 175.9h0.7M176.1 170.1h0.7M178.5 168.0h0.7M194.4 177.4h0.7M156.9 172.6h0.7M176.3 182.2h0.7M166.3 158.4h0.7M159.1 180.7h0.7M184.2 156.6h0.7M175.9 166.3h0.7M173.8 179.0h0.7M169.8 171.5h0.7M153.1 172.2h0.7M187.4 166.9h0.7M176.3 176.6h0.7M180.8 169.9h0.7M172.0 172.3h0.7M155.5 178.0h0.7M165.4 174.1h0.7M180.9 170.5h0.7M157.4 162.9h0.7M178.8 183.4h0.7M190.5 161.5h0.7M174.1 173.4h0.7M165.5 170.6h0.7M162.8 173.5h0.7M167.9 169.9h0.7M186.0 163.3h0.7M173.1 166.4h0.7M168.7 171.5h0.7M172.2 174.1h0.7M164.7 177.5h0.7M160.9 161.9h0.7M163.6 183.0h0.7M184.3 167.3h0.7M191.2 175.1h0.7M157.3 175.8h0.7M162.2 161.7h0.7M150.1 173.5h0.7M176.3 162.9h0.7M178.3 175.8h0.7M177.7 178.0h0.7M164.6 175.4h0.7M177.1 166.8h0.7M169.0 161.0h0.7M173.9 162.1h0.7M176.4 172.9h0.7M170.4 177.4h0.7M169.2 186.9h0.7M176.1 161.9h0.7M166.7 175.2h0.7M189.1 167.0h0.7M187.1 173.6h0.7M184.9 166.8h0.7M164.3 168.7h0.7M172.5 163.4h0.7M160.0 178.5h0.7M182.4 171.6h0.7M167.4 181.6h0.7M154.9 178.5h0.7M174.4 177.9h0.7M175.8 180.9h0.7M178.0 172.0h0.7M180.4 163.6h0.7M174.3 175.5h0.7M156.4 176.8h0.7M176.7 180.0h0.7M172.5 182.8h0.7M181.7 177.6h0.7M174.6 172.4h0.7M161.7 180.2h0.7M167.8 170.7h0.7M175.6 182.2h0.7M168.1 163.0h0.7M175.9 174.0h0.7M153.3 166.4h0.7M172.9 156.2h0.7M183.7 160.9h0.7M180.1 162.7h0.7M167.9 166.0h0.7M168.6 155.2h0.7M164.9 179.6h0.7M153.1 184.6h0.7M173.2 160.3h0.7M157.8 167.3h0.7M173.0 167.6h0.7M187.0 171.2h0.7M165.3 163.8h0.7M160.6 171.0h0.7M170.2 164.6h0.7" stroke="#555" stroke-width="0.7" stroke-opacity="0.5" fill="none"/>
<path d="M179.2 194.8h0.7M170.8 207.2h0.7M186.7 197.2h0.7M193.2 197.0h0.7M187.8 201.2h0.7M171.4 199.7h0.7M172.3 201.5h0.7M175.1 198.9h0.7M166.5 203.0h0.7M185.1 192.8h0.7M175.9 206.1h0.7M184.5 194.3h0.7M183.2 202.5h0.7M189.0 203.5h0.7M167.3 200.2h0.7M167.9 201.6h0.7M182.4 202.2h0.7M186.3 200.5h0.7M168.0 204.9h0.7M186.7 204.1h0.7M171.6 193.3h0.7M172.1 207.4h0.7M178.3 205.1h0.7M171.7 190.6h0.7M167.9 214.7h0.7M184.8 204.6h0.7M181.4 199.7h0.7M174.1 197.4h0.7M179.7 198.8h0.7M176.3 202.9h0.7M181.8 202.7h0.7M178.1 202.9h0.7M187.3 208.5h0.7M190.1 195.4h0.7M179.8 200.8h0.7M195.1 211.0h0.7M180.8 213.8h0.7M189.8 192.1h0.7M183.4 202.1h0.7M172.5 209.9h0.7M182.0 190.5h0.7M167.6 198.6h0.7M187.5 202.9h0.7M185.9 198.2h0.7M189.0 198.3h0.7M183.6 198.1h0.7M172.7 202.6h0.7M164.9 200.5h0.7M180.9 191.7h0.7M175.3 198.7h0.7M187.1 197.1h0.7M157.0 205.1h0.7M173.3 203.8h0.7M163.3 206.9h0.7M161.4 197.3h0.7M174.5 202.8h0.7M171.3 199.4h0.7M189.8 202.7h0.7M186.5 199.3h0.7M171.6 198.2h0.7M172.0 190.0h0.7M178.2 199.2h0.7M173.3 206.4h0.7M199.7 194.3h0.7M182.7 192.4h0.7M186.9 199.4h0.7M161.5 192.6h0.7M183.5 195.5h0.7M175.4 217.2h0.7M167.9 203.8h0.7M180.1 200.7h0.7M192.4 196.4h0.7M152.9 207.2h0.7M158.2 198.6h0.7M193.5 194.0h0.7M177.3 191.5h0.7M189.2 207.4h0.7M159.9 197.9h0.7M170.7 205.1h0.7M186.7 201.5h0.7M184.8 203.2h0.7M179.5 199.0h0.7M169.0 203.6h0.7M168.7 203.5h0.7M169.1 199.2h0.7M186.0 207.5h0.7M176.8 199.2h0.7M177.1 204.4h0.7M168.6 217.8h0.7M176.1 200.7h0.7M183.6 203.2h0.7M176.7 197.7h0.7M163.2 194.7h0.7M175.8 195.8h0.7M197.7 202.7h0.7M172.6 200.8h0.7M174.3 196.9h0.7M158.3 197.0h0.7M164.1 201.6h0.7M170.7 194.7h0.7M174.1 196.3h0.7M179.9 197.6h0.7M163.4 201.8h0.7M162.8 203.5h0.7M164.0 192.6h0.7M196.4 197.8h0.7M179.4 194.5h0.7M189.6 209.2h0.7M170.0 191.4h0.7M155.9 201.3h0.7M165.3 188.5h0.7M180.0 198.6h0.7M180.4 190.7h0.7M163.6 200.1h0.7M191.2 202.9h0.7M172.7 205.4h0.7M184.8 191.4h0.7M197.1 207.6h0.7M175.8 202.6h0.7M162.4 208.7h0.7M199.7 201.3h0.7M179.5 198.7h0.7M176.6 192.8h0.7M177.2 206.9h0.7M173.1 207.1h0.7M161.9 195.6h0.7M172.2 197.3h0.7M186.9 192.0h0.7M184.8 193.8h0.7M155.1 201.9h0.7M184.6 203.1h0.7M176.3 206.9h0.7M179.6 205.6h0.7M162.8 213.0h0.7M172.0 192.1h0.7M169.2 206.9h0.7M176.8 199.3h0.7M189.9 208.0h0.7M181.0 194.2h0.7M184.2 197.3h0.7M178.6 198.5h0.7M158.2 197.2h0.7M173.1 188.5h0.7M164.2 211.8h0.7M174.6 213.8h0.7M181.8 197.1h0.7M169.1 211.5h0.7M167.0 204.2h0.7M171.4 194.0h0.7M171.5 196.6h0.7M192.2 195.3h0.7M163.4 207.6h0.7M178.0 189.3h0.7M170.8 209.6h0.7M173.3 190.2h0.7M178.0 189.3h0.7M172.7 201.1h0.7M175.5 193.9h0.7M194.5 211.5h0.7M182.5 209.9h0.7M178.8 201.6h0.7M169.0 196.3h0.7M180.9 197.6h0.7M164.2 195.1h0.7M163.1 203.1h0.7M151.8 200.1h0.7M188.0 195.1h0.7M182.1 201.4h0.7M170.1 188.7h0.7M169.8 201.2h0.7M175.2 198.9h0.7M187.6 203.8h0.7M173.7 203.8h0.7M169.2 205.8h0.7M179.5 202.1h0.7M180.4 196.4h0.7M190.7 196.9h0.7M173.5 202.6h0.7M164.7 208.1h0.7M190.5 202.1h0.7M169.7 211.9h0.7M169.2 200.0h0.7M176.4 208.8h0.7M162.2 209.8h0.7M185.8 201.4h0.7M162.0 210.0h0.7M150.9 193.8h0.7M192.7 205.3h0.7M171.9 195.7h0.7M162.1 205.3h0.7M165.5 199.1h0.7M183.5 196.4h0.7M174.6 209.3h0.7M159.8 200.5h0.7M191.4 198.3h0.7M171.5 202.1h0.7M159.2 198.9h0.7M180.3 197.6h0.7M179.8 201.8h0.7M180.0 191.6h0.7M192.7 201.4h0.7M179.3 200.1h0.7M171.6 198.6h0.7M172.4 200.2h0.7M190.8 205.0h0.7M168.7 198.3h0.7M176.8 197.2h0.7M182.3 202.7h0.7M160.6 201.8h0.7M164.0 198.9h0.7M171.0 195.6h0.7M181.5 197.7h0.7M192.1 201.4h0.7M184.6 197.2h0.7M195.6 194.8h0.7M167.2 188.5h0.7M191.5 207.1h0.7M167.9 199.8h0.7M183.7 206.6h0.7M183.1 200.5h0.7M188.6 193.2h0.7M177.2 207.9h0.7M158.1 197.4h0.7M179.6 192.5h0.7M163.6 209.1h0.7M169.2 197.0h0.7M187.2 198.2h0.7M180.4 213.3h0.7M179.6 210.1h0.7M193.3 191.0h0.7M191.9 213.4h0.7M179.0 202.9h0.7M167.2 202.3h0.7M169.9 200.1h0.7M164.8 196.1h0.7M179.5 203.5h0.7M160.6 216.4h0.7M190.7 201.2h0.7M185.5 192.1h0.7M182.7 213.0h0.7M160.7 195.5h0.7M168.9 202.1h0.7M178.4 190.8h0.7M185.3 194.4h0.7M180.8 196.3h0.7M179.0 208.7h0.7M171.0 192.9h0.7M173.2 200.0h0.7M184.7 192.4h0.7M176.4 208.9h0.7M174.3 200.6h0.7M179.2 203.5h0.7M183.8 203.0h0.7M155.5 201.0h0.7M193.3 191.9h0.7M180.5 198.0h0.7M175.4 209.5h0.7M182.0 197.4h0.7M166.9 211.3h0.7M167.0 199.2h0.7" stroke="#555" stroke-width="0.7" stroke-opacity="0.55" fill="none"/>
<path d="M151.4 159.7h0.7M148.1 191.1h0.7M151.2 184.2h0.7M150.1 187.4h0.7M154.3 191.5h0.7M152.6 206.9h0.7M156.7 156.6h0.7M151.8 167.0h0.7M155.9 163.6h0.7M146.7 167.9h0.7M153.2 211.6h0.7M148.6 181.9h0.7M152.5 192.0h0.7M152.7 197.1h0.7M152.8 184.8h0.7M146.8 186.6h0.7M146.3 191.9h0.7M150.5 217.1h0.7M150.9 161.2h0.7M154.4 184.0h0.7M152.5 195.9h0.7M151.6 194.9h0.7M154.4 207.0h0.7M150.0 171.1h0.7M146.7 186.5h0.7M154.8 161.0h0.7M146.3 196.1h0.7M153.3 184.6h0.7M151.5 169.4h0.7M155.3 178.0h0.7M148.8 188.7h0.7M148.0 190.1h0.7M147.7 203.8h0.7M151.7 172.6h0.7M149.7 228.8h0.7M156.5 180.5h0.7M159.8 193.4h0.7M149.8 180.7h0.7M153.1 197.4h0.7M154.0 193.9h0.7M149.5 199.7h0.7M150.7 187.9h0.7M152.7 205.6h0.7M152.6 200.1h0.7M151.7 190.0h0.7M155.3 172.3h0.7M151.1 152.6h0.7M148.9 186.7h0.7M146.4 223.9h0.7M146.5 166.9h0.7M148.3 184.3h0.7M151.9 212.7h0.7M146.4 230.8h0.7M155.3 194.4h0.7M149.3 185.0h0.7M148.3 174.7h0.7M153.8 182.7h0.7M147.7 173.8h0.7M147.0 204.1h0.7M149.7 188.5h0.7M148.9 188.3h0.7M152.0 206.0h0.7M153.9 207.9h0.7M156.3 215.3h0.7M153.2 197.4h0.7M148.4 197.6h0.7M151.7 178.4h0.7M153.4 209.5h0.7M148.2 198.5h0.7M154.8 200.3h0.7M149.3 212.1h0.7M155.9 220.8h0.7M154.2 186.8h0.7M146.6 181.0h0.7M146.2 190.0h0.7M148.8 209.8h0.7M148.4 198.2h0.7M146.9 185.2h0.7M149.7 181.1h0.7M150.1 211.0h0.7" stroke="#555" stroke-width="0.7" stroke-opacity="0.5" fill="none"/>
<path d="M146.0 153.0C146.9 153.3 150.2 153.5 151.5 155.0C152.8 156.5 153.6 158.8 153.8 162.0C154.0 165.2 152.6 170.0 152.5 174.0C152.4 178.0 152.8 182.2 153.0 186.0C153.2 189.8 153.8 193.2 153.5 197.0C153.2 200.8 152.1 205.2 151.0 209.0C149.9 212.8 148.3 216.8 147.0 220.0C145.7 223.2 143.7 226.7 143.0 228.0" stroke="#555" stroke-width="0.5" fill="none" stroke-opacity="1"/>
<path d="M151.3 171.8C151.6 169.8 151.7 167.8 152.7 166.0C153.7 164.2 155.1 162.1 157.1 160.9C159.1 159.7 161.5 159.0 164.4 158.7C167.3 158.4 171.8 158.5 174.6 159.0C177.4 159.5 179.5 159.9 181.1 161.6C182.7 163.2 183.4 166.0 184.0 168.9C184.6 171.8 184.7 176.4 184.5 179.1C184.3 181.8 183.8 183.5 182.6 184.9C181.4 186.3 179.3 186.9 177.5 187.6C175.7 188.3 174.2 188.7 172.0 189.0C169.8 189.3 166.7 189.6 164.0 189.5C161.3 189.4 158.0 189.4 156.0 188.5C154.0 187.6 152.9 185.8 152.0 184.0C151.1 182.2 150.9 180.0 150.8 178.0C150.7 176.0 151.0 173.8 151.3 171.8Z" stroke="#444" stroke-width="0.5" fill="none" stroke-opacity="1"/>
<path d="M157.1 168.9C155.4 169.8 154.9 171.6 154.2 173.3C153.4 175.0 152.7 177.2 152.6 179.1C152.5 181.0 152.8 183.2 153.8 184.5C154.8 185.8 156.3 186.5 158.6 186.8C160.8 187.1 164.9 186.9 167.3 186.2C169.7 185.5 172.0 184.2 173.1 182.8C174.2 181.4 174.4 179.5 173.9 177.7C173.4 175.9 171.8 173.4 170.2 171.8C168.6 170.2 166.6 168.7 164.4 168.2C162.2 167.7 158.8 168.1 157.1 168.9Z" stroke="#444" stroke-width="0.5" fill="none" stroke-opacity="1"/>
<path d="M159.3 162.4C159.9 161.8 162.1 161.2 164.4 160.9C166.7 160.6 170.7 160.1 173.1 160.5C175.5 160.9 177.6 161.7 178.9 163.1C180.2 164.5 180.8 166.7 181.1 168.9C181.3 171.1 180.9 174.6 180.4 176.2C179.9 177.8 178.9 178.4 178.2 178.4C177.5 178.4 176.6 177.3 176.0 176.2C175.4 175.1 175.6 173.2 174.6 171.8C173.6 170.4 171.9 168.7 170.2 167.5C168.5 166.3 166.0 165.1 164.4 164.6C162.8 164.1 161.7 165.0 160.8 164.6C160.0 164.2 158.7 163.0 159.3 162.4Z" stroke="#444" stroke-width="0.5" fill="none" stroke-opacity="1"/>
<path d="M157.0 193.7C159.4 192.6 165.1 192.0 168.8 191.5C172.5 191.0 175.8 190.6 179.0 190.8C182.2 191.1 185.8 191.8 187.7 193.0C189.6 194.2 190.5 196.1 190.6 198.0C190.7 199.9 189.8 202.8 188.4 204.6C187.0 206.4 184.7 208.0 181.9 209.0C179.1 210.0 174.8 210.5 171.7 210.4C168.5 210.3 165.4 209.5 163.0 208.2C160.6 206.9 158.5 204.1 157.0 202.4C155.5 200.7 154.2 199.4 154.2 198.0C154.2 196.6 154.6 194.8 157.0 193.7Z" stroke="#555" stroke-width="0.5" fill="none" stroke-opacity="1"/>
<path d="M160.7 194.7C162.7 193.8 167.5 193.3 170.6 192.9C173.7 192.5 176.5 192.1 179.2 192.3C181.8 192.5 184.8 193.1 186.5 194.1C188.1 195.1 188.8 196.7 188.9 198.3C189.0 199.9 188.3 202.3 187.1 203.9C185.8 205.4 183.9 206.7 181.6 207.6C179.3 208.4 175.7 208.8 173.0 208.7C170.4 208.6 167.8 208.0 165.7 206.9C163.7 205.8 161.9 203.4 160.7 202.0C159.4 200.6 158.3 199.5 158.3 198.3C158.3 197.1 158.6 195.6 160.7 194.7Z" stroke="#555" stroke-width="0.5" fill="none" stroke-opacity="1"/>
<path d="M164.4 195.7C166.0 195.0 169.9 194.5 172.4 194.2C174.9 193.9 177.2 193.6 179.3 193.7C181.5 193.9 183.9 194.4 185.2 195.2C186.6 196.1 187.1 197.3 187.2 198.6C187.3 200.0 186.7 201.9 185.7 203.1C184.7 204.4 183.2 205.5 181.3 206.1C179.4 206.8 176.5 207.2 174.4 207.1C172.2 207.0 170.1 206.5 168.4 205.6C166.8 204.7 165.4 202.8 164.4 201.6C163.4 200.5 162.5 199.6 162.5 198.6C162.5 197.7 162.7 196.5 164.4 195.7Z" stroke="#555" stroke-width="0.5" fill="none" stroke-opacity="1"/>
<path d="M168.0 196.7C169.3 196.2 172.3 195.8 174.2 195.6C176.1 195.3 177.8 195.1 179.5 195.2C181.1 195.3 183.0 195.7 184.0 196.4C185.0 197.0 185.5 198.0 185.5 199.0C185.6 200.0 185.1 201.4 184.4 202.4C183.6 203.3 182.4 204.2 181.0 204.7C179.5 205.2 177.3 205.5 175.7 205.4C174.0 205.3 172.4 205.0 171.2 204.3C169.9 203.6 168.8 202.1 168.0 201.2C167.3 200.4 166.6 199.7 166.6 199.0C166.6 198.2 166.8 197.3 168.0 196.7Z" stroke="#555" stroke-width="0.5" fill="none" stroke-opacity="1"/>
<path d="M171.5 197.7C172.4 197.3 174.4 197.1 175.8 196.9C177.1 196.8 178.3 196.6 179.4 196.7C180.6 196.8 181.9 197.0 182.6 197.5C183.3 197.9 183.6 198.6 183.6 199.3C183.7 200.0 183.3 201.0 182.8 201.7C182.3 202.3 181.5 202.9 180.5 203.2C179.5 203.6 177.9 203.8 176.8 203.7C175.7 203.7 174.6 203.4 173.7 203.0C172.8 202.5 172.0 201.5 171.5 200.9C171.0 200.3 170.5 199.8 170.5 199.3C170.5 198.8 170.6 198.1 171.5 197.7Z" stroke="#555" stroke-width="0.5" fill="none" stroke-opacity="1"/>
<path d="M174.8 198.7C175.3 198.5 176.4 198.4 177.2 198.3C177.9 198.2 178.6 198.1 179.2 198.2C179.8 198.2 180.6 198.4 180.9 198.6C181.3 198.8 181.5 199.2 181.5 199.6C181.5 200.0 181.4 200.6 181.1 200.9C180.8 201.3 180.3 201.6 179.8 201.8C179.2 202.0 178.4 202.1 177.7 202.1C177.1 202.1 176.5 201.9 176.0 201.6C175.5 201.4 175.1 200.8 174.8 200.5C174.5 200.1 174.2 199.9 174.2 199.6C174.2 199.3 174.3 199.0 174.8 198.7Z" stroke="#555" stroke-width="0.5" fill="none" stroke-opacity="1"/>
<path d="M137.5 156.7L140.1 193.9M138.9 158.8L141.4 193.8M139.9 155.3L142.6 192.8M141.4 157.9L143.8 192.4M142.5 155.1L145.2 193.7M143.9 156.8L146.4 192.4M145.3 158.3L147.6 191.1M146.3 155.1L149.0 193.7M147.7 156.1L150.0 190.2M148.9 155.5L151.6 194.0" stroke="#333" stroke-width="0.55" fill="none" opacity="0.55"/>
<path d="M139.3 191.0L133.9 224.8M140.8 188.6L134.6 227.6M141.6 190.7L135.9 226.3M143.1 188.5L137.1 225.7M143.7 191.8L138.5 224.0M145.1 189.7L139.6 224.2M145.8 192.0L140.7 224.4M147.0 191.8L141.3 227.4M148.2 190.9L142.9 224.2M149.4 190.8L143.7 226.0" stroke="#333" stroke-width="0.55" fill="none" opacity="0.55"/>
<path d="M136.0 157.5C137.1 156.0 140.5 156.1 142.9 156.1C145.3 156.1 149.1 156.0 150.4 157.5C151.7 159.0 151.0 162.2 151.0 164.9C151.0 167.7 150.7 171.1 150.5 174.2C150.3 177.2 149.9 180.7 149.6 183.3C149.3 186.0 149.5 188.8 148.7 190.2C147.9 191.7 145.9 192.0 144.7 192.0C143.4 192.0 142.0 191.9 141.2 190.2C140.4 188.6 140.2 185.1 139.7 182.2C139.2 179.3 138.7 175.9 138.1 173.0C137.5 170.1 136.6 167.5 136.3 164.9C135.9 162.4 134.9 159.0 136.0 157.5Z" fill="#666" opacity="0.4" filter="url(#bl2)"/>
<path d="M137.0 159.5C138.0 158.2 140.9 158.3 143.0 158.3C145.1 158.3 148.3 158.2 149.5 159.5C150.7 160.8 150.0 163.6 150.0 166.0C150.0 168.4 149.8 171.3 149.6 174.0C149.4 176.7 149.1 179.7 148.8 182.0C148.5 184.3 148.7 186.8 148.0 188.0C147.3 189.2 145.6 189.5 144.5 189.5C143.4 189.5 142.2 189.4 141.5 188.0C140.8 186.6 140.6 183.5 140.2 181.0C139.8 178.5 139.3 175.5 138.8 173.0C138.3 170.5 137.5 168.2 137.2 166.0C136.9 163.8 136.0 160.8 137.0 159.5Z" fill="url(#gB)" filter="url(#bl)"/>
<path d="M138.9 178.7h0.6M147.4 179.2h0.6M148.4 167.5h0.6M140.5 176.8h0.6M143.0 171.5h0.6M144.4 182.3h0.6M143.6 187.4h0.6M149.9 179.2h0.6M137.2 170.7h0.6M141.1 174.3h0.6M142.4 167.2h0.6M149.0 162.4h0.6M148.4 178.5h0.6M146.5 183.4h0.6M140.9 184.7h0.6M139.7 184.1h0.6M144.7 180.2h0.6M139.2 185.1h0.6M147.7 174.7h0.6M149.7 185.7h0.6M139.7 167.0h0.6M146.4 166.4h0.6M145.4 184.5h0.6M143.7 185.2h0.6M149.0 180.4h0.6M145.5 182.4h0.6M143.4 181.0h0.6M144.4 184.7h0.6M142.5 167.4h0.6M142.6 176.9h0.6M141.7 180.4h0.6M142.5 176.1h0.6M149.6 175.5h0.6M137.2 165.7h0.6M142.1 184.0h0.6M144.7 177.6h0.6M140.1 175.4h0.6M148.4 160.8h0.6M140.7 188.3h0.6M141.2 178.0h0.6M148.6 164.0h0.6M140.1 186.3h0.6M146.1 172.0h0.6M143.1 185.5h0.6M140.0 176.0h0.6M148.2 185.6h0.6M138.5 186.8h0.6M149.8 181.1h0.6M143.0 183.8h0.6M137.8 168.1h0.6M137.9 184.2h0.6M145.7 185.8h0.6M148.6 178.2h0.6M145.0 188.2h0.6M144.7 166.1h0.6M140.2 176.9h0.6M146.5 188.1h0.6M140.0 167.1h0.6M144.4 174.7h0.6M142.7 174.2h0.6M139.4 185.9h0.6M141.3 183.9h0.6M149.4 188.5h0.6M144.9 174.3h0.6M142.3 166.6h0.6M145.3 181.8h0.6M137.4 174.7h0.6M144.3 167.2h0.6M141.0 169.1h0.6M148.7 181.7h0.6M140.3 179.3h0.6M140.6 180.9h0.6M139.0 185.2h0.6M142.7 172.3h0.6M139.2 187.7h0.6M138.7 169.9h0.6M141.3 170.7h0.6M146.9 176.2h0.6M143.2 176.4h0.6M147.1 176.2h0.6M142.5 187.7h0.6M140.3 188.0h0.6M143.8 189.1h0.6M142.0 183.1h0.6M138.8 172.6h0.6M141.7 187.3h0.6M143.0 183.5h0.6M139.7 179.5h0.6M141.4 169.3h0.6M144.1 183.1h0.6M146.2 159.1h0.6M137.9 177.2h0.6M139.8 172.2h0.6M144.2 186.1h0.6M140.2 174.2h0.6M140.6 173.2h0.6M147.3 174.8h0.6M146.1 185.4h0.6M145.5 187.3h0.6M137.6 166.8h0.6M140.4 168.9h0.6M147.7 179.6h0.6M142.6 180.9h0.6M149.8 171.6h0.6M141.4 184.6h0.6M149.8 163.2h0.6M148.0 172.1h0.6M145.5 166.9h0.6M148.6 175.1h0.6M138.3 173.4h0.6M147.5 170.1h0.6M145.4 189.1h0.6M140.7 183.1h0.6M138.1 172.6h0.6M137.6 189.2h0.6M141.5 181.5h0.6M142.7 169.7h0.6M140.2 188.2h0.6M145.2 168.9h0.6M143.6 182.6h0.6M148.4 169.4h0.6M139.3 166.6h0.6M143.7 171.6h0.6M144.2 178.3h0.6M148.6 184.1h0.6M137.5 178.1h0.6M137.2 186.2h0.6M138.9 174.0h0.6M147.2 181.3h0.6M140.8 167.4h0.6M146.0 186.6h0.6M145.9 166.5h0.6M142.3 185.5h0.6M145.6 168.5h0.6M138.7 174.0h0.6M142.2 168.9h0.6M142.0 167.3h0.6M144.2 180.1h0.6M147.4 176.4h0.6M141.3 165.6h0.6M148.2 188.2h0.6M146.9 188.0h0.6M147.2 179.8h0.6M138.5 180.6h0.6M138.3 172.1h0.6M141.2 187.1h0.6M144.0 176.5h0.6M146.2 166.2h0.6M147.3 185.5h0.6M141.1 187.2h0.6M146.9 168.1h0.6M141.8 183.3h0.6M139.0 174.7h0.6M143.0 186.2h0.6M141.4 185.8h0.6M143.7 174.1h0.6M148.5 184.5h0.6M146.0 175.0h0.6M148.2 176.4h0.6M144.2 184.8h0.6M140.6 175.3h0.6M147.4 187.3h0.6M138.1 173.6h0.6M149.5 170.0h0.6M147.5 162.8h0.6M144.2 179.6h0.6M142.3 179.8h0.6M138.2 180.3h0.6M138.3 188.0h0.6M145.7 167.8h0.6M147.5 182.2h0.6M149.1 183.3h0.6M137.1 163.6h0.6M147.1 171.4h0.6M143.9 168.4h0.6M139.0 185.0h0.6M148.7 179.6h0.6M142.2 184.5h0.6M140.6 178.4h0.6M147.2 188.8h0.6M141.0 183.1h0.6M143.3 184.2h0.6M141.7 185.6h0.6M145.9 187.2h0.6M144.3 177.6h0.6M143.9 185.7h0.6M137.1 188.7h0.6M146.3 187.5h0.6M148.0 178.6h0.6M141.4 168.2h0.6M147.7 183.8h0.6M149.9 175.6h0.6M137.6 182.4h0.6M138.0 167.2h0.6M141.2 180.6h0.6M142.8 172.2h0.6M148.8 165.1h0.6M144.3 186.4h0.6M141.0 177.5h0.6M141.5 181.3h0.6M149.4 189.0h0.6M147.7 184.1h0.6M138.6 164.9h0.6M138.6 174.8h0.6M149.8 176.9h0.6M149.5 186.3h0.6M139.9 170.9h0.6M140.6 161.6h0.6M143.9 163.9h0.6M145.8 173.5h0.6M144.8 180.4h0.6M146.6 173.4h0.6M146.3 183.3h0.6M143.0 178.2h0.6M137.5 173.0h0.6M145.0 178.0h0.6M148.2 169.7h0.6M148.1 187.2h0.6M143.3 185.9h0.6M140.5 169.3h0.6M149.8 184.3h0.6M137.1 166.7h0.6M141.5 175.0h0.6" stroke="#fff" stroke-width="0.6" stroke-opacity="0.35" fill="none"/>
<path d="M145.6 160 L149.8 160 L148.6 189 L146 189Z" fill="#fff" opacity="0.3" filter="url(#bl)"/>
<path d="M139.5 186.3L139.2 192.8M140.9 187.0L140.6 193.5M142.4 187.2L142.1 193.5M144.0 185.4L143.6 193.0M145.4 187.4L145.1 194.3M147.0 187.0L146.7 192.7M148.5 186.1L148.1 194.7" stroke="#222" stroke-width="0.7" fill="none" opacity="0.7"/>
<path d="M139.1 189.6C140.3 188.5 142.5 187.9 144.3 187.9C146.1 187.9 148.8 188.2 149.8 189.6C150.8 191.0 150.4 193.8 150.3 196.5C150.1 199.2 149.4 202.6 148.9 205.7C148.4 208.8 147.8 212.0 147.2 214.9C146.5 217.8 145.9 220.8 144.9 222.9C143.8 225.1 142.4 226.9 140.8 227.6C139.3 228.2 136.9 228.1 135.7 227.0C134.4 225.8 133.8 223.2 133.5 220.7C133.2 218.1 133.6 214.5 133.9 211.4C134.3 208.4 135.0 205.1 135.6 202.2C136.1 199.4 136.8 196.3 137.4 194.2C138.0 192.1 138.0 190.7 139.1 189.6Z" fill="#666" opacity="0.4" filter="url(#bl2)"/>
<path d="M139.5 192.0C140.5 191.1 142.4 190.5 144.0 190.5C145.6 190.5 147.9 190.8 148.8 192.0C149.7 193.2 149.3 195.7 149.2 198.0C149.1 200.3 148.4 203.3 148.0 206.0C147.6 208.7 147.1 211.5 146.5 214.0C145.9 216.5 145.4 219.2 144.5 221.0C143.6 222.8 142.3 224.4 141.0 225.0C139.7 225.6 137.6 225.5 136.5 224.5C135.4 223.5 134.8 221.2 134.6 219.0C134.3 216.8 134.7 213.7 135.0 211.0C135.3 208.3 135.9 205.5 136.4 203.0C136.9 200.5 137.5 197.8 138.0 196.0C138.5 194.2 138.5 192.9 139.5 192.0Z" fill="url(#gB)" filter="url(#bl)"/>
<path d="M148.3 224.7h0.6M140.0 199.4h0.6M142.4 225.0h0.6M138.3 224.1h0.6M148.4 194.3h0.6M142.8 206.0h0.6M143.0 209.2h0.6M148.4 223.6h0.6M138.3 222.4h0.6M134.9 221.1h0.6M148.4 210.9h0.6M140.0 205.7h0.6M138.1 215.4h0.6M144.1 218.6h0.6M148.0 198.9h0.6M144.8 197.6h0.6M136.7 208.8h0.6M149.2 198.0h0.6M141.3 220.7h0.6M148.8 220.6h0.6M142.4 223.5h0.6M142.2 206.4h0.6M145.3 224.6h0.6M146.9 217.6h0.6M142.8 210.7h0.6M137.5 221.8h0.6M135.0 222.0h0.6M143.0 214.3h0.6M148.1 201.4h0.6M137.3 211.6h0.6M143.2 210.8h0.6M134.6 211.3h0.6M145.0 198.8h0.6M138.3 200.7h0.6M147.2 220.8h0.6M137.1 222.5h0.6M145.6 192.0h0.6M139.9 215.9h0.6M140.9 193.7h0.6M143.2 205.0h0.6M137.7 224.6h0.6M144.7 197.8h0.6M137.9 199.6h0.6M149.0 211.6h0.6M139.2 208.1h0.6M137.0 212.6h0.6M144.8 210.5h0.6M146.2 208.0h0.6M136.1 203.0h0.6M141.2 216.6h0.6M136.1 223.3h0.6M144.4 219.4h0.6M136.5 209.5h0.6M145.7 216.2h0.6M141.5 212.5h0.6M143.5 218.0h0.6M137.3 211.1h0.6M142.6 212.3h0.6M149.1 222.8h0.6M139.4 214.8h0.6M143.8 204.5h0.6M138.2 219.3h0.6M149.2 218.1h0.6M148.3 210.2h0.6M144.1 211.5h0.6M137.6 222.2h0.6M149.0 208.7h0.6M139.1 197.2h0.6M145.5 212.6h0.6M148.2 216.7h0.6M134.6 217.6h0.6M135.1 197.6h0.6M135.0 211.3h0.6M143.8 214.0h0.6M147.1 203.7h0.6M148.6 210.8h0.6M143.7 209.1h0.6M138.4 214.4h0.6M134.7 220.2h0.6M139.3 205.5h0.6M141.9 222.5h0.6M139.0 195.2h0.6M146.4 216.1h0.6M146.0 199.6h0.6M142.3 210.1h0.6M141.0 211.0h0.6M148.0 224.8h0.6M145.3 223.3h0.6M136.7 218.4h0.6M146.7 195.1h0.6M143.8 217.7h0.6M138.5 207.7h0.6M142.4 223.3h0.6M139.6 193.8h0.6M135.6 208.8h0.6M147.8 224.5h0.6M134.7 221.0h0.6M136.2 210.9h0.6M146.4 219.0h0.6M146.2 220.4h0.6M134.8 200.2h0.6M146.9 198.8h0.6M142.1 221.3h0.6M147.1 205.0h0.6M139.3 200.2h0.6M148.9 191.3h0.6M145.9 210.9h0.6M143.1 220.7h0.6M145.9 224.7h0.6M148.7 223.5h0.6M145.6 198.2h0.6M139.3 204.6h0.6M149.0 208.6h0.6M140.9 196.9h0.6M149.2 200.6h0.6M144.8 213.2h0.6M145.8 213.8h0.6M140.6 208.4h0.6M144.9 219.4h0.6M139.1 222.6h0.6M145.4 221.8h0.6M140.6 215.2h0.6M135.7 215.0h0.6M139.1 199.0h0.6M135.3 200.3h0.6M145.3 218.8h0.6M137.6 216.3h0.6M146.7 218.9h0.6M137.9 216.4h0.6M140.4 215.0h0.6M136.8 206.2h0.6M143.8 222.1h0.6M137.1 223.6h0.6M142.0 206.0h0.6M139.0 196.8h0.6M141.6 214.3h0.6M143.0 223.1h0.6M143.1 216.8h0.6M139.9 220.3h0.6M148.9 190.9h0.6M136.4 220.5h0.6M137.8 199.8h0.6M136.5 217.3h0.6M141.8 193.8h0.6M138.4 192.1h0.6M137.6 209.9h0.6M138.4 191.4h0.6M139.3 205.3h0.6M139.9 210.8h0.6M134.9 208.0h0.6M145.4 221.5h0.6M134.6 213.1h0.6M147.7 204.9h0.6M137.6 212.1h0.6M147.6 221.1h0.6M141.9 200.3h0.6M136.3 214.9h0.6M143.6 207.9h0.6M143.8 217.7h0.6M140.1 216.4h0.6M134.8 197.4h0.6M147.2 221.5h0.6M135.7 223.0h0.6M137.1 220.0h0.6M137.5 208.8h0.6M146.6 222.0h0.6M140.2 221.4h0.6M138.4 223.7h0.6M144.4 215.2h0.6M140.2 204.9h0.6M146.2 199.2h0.6M136.6 203.0h0.6M143.9 206.5h0.6M142.3 216.8h0.6M145.6 221.9h0.6M142.4 204.0h0.6M138.1 202.4h0.6M135.7 201.4h0.6M147.5 208.9h0.6M135.9 217.3h0.6M143.2 204.4h0.6M135.0 214.1h0.6M142.9 198.8h0.6M135.8 215.9h0.6M138.1 220.1h0.6M142.3 215.6h0.6M148.4 208.6h0.6M140.8 210.3h0.6M146.9 214.3h0.6M145.8 224.7h0.6M145.1 214.3h0.6M148.6 216.8h0.6M145.7 224.4h0.6M142.9 204.3h0.6M138.0 211.6h0.6M137.8 220.3h0.6M141.7 218.6h0.6M144.9 211.2h0.6M149.0 218.9h0.6M146.3 225.0h0.6M144.4 206.0h0.6M148.3 213.1h0.6M139.8 211.8h0.6M141.5 194.4h0.6M139.1 214.1h0.6M141.7 199.4h0.6M137.1 197.5h0.6M139.7 211.7h0.6M142.3 213.3h0.6M136.5 210.1h0.6M142.8 193.6h0.6M138.7 224.4h0.6M139.3 208.9h0.6M141.8 219.4h0.6M134.7 220.6h0.6M137.6 200.8h0.6M140.4 209.5h0.6M148.7 210.0h0.6M143.0 211.6h0.6M144.0 224.2h0.6M146.7 215.8h0.6M135.1 208.4h0.6M142.4 224.1h0.6M135.6 215.4h0.6M140.1 219.4h0.6M138.7 217.0h0.6M140.0 223.3h0.6M147.7 206.4h0.6M138.6 204.5h0.6M148.9 212.9h0.6M137.7 200.0h0.6M135.7 220.6h0.6M146.0 210.8h0.6M146.2 218.7h0.6M147.6 200.0h0.6M146.5 209.1h0.6M147.6 212.5h0.6M138.4 212.7h0.6M141.8 201.6h0.6M137.0 196.2h0.6M143.0 222.3h0.6M136.8 222.1h0.6M141.4 212.7h0.6M138.4 199.6h0.6M145.2 223.4h0.6M143.5 213.5h0.6M148.5 222.0h0.6M135.3 215.8h0.6M137.0 222.3h0.6M136.6 205.2h0.6M143.1 213.6h0.6M141.5 212.2h0.6M145.1 201.1h0.6M139.1 214.3h0.6M148.3 221.4h0.6M149.0 223.4h0.6M140.3 197.4h0.6M138.3 211.9h0.6M147.8 219.4h0.6M142.0 201.0h0.6M147.6 224.3h0.6M136.1 211.9h0.6M142.2 212.0h0.6M137.3 220.4h0.6M149.0 206.6h0.6M143.5 192.9h0.6M145.6 198.9h0.6M148.1 211.1h0.6M147.4 204.5h0.6M135.3 204.7h0.6M135.7 198.4h0.6M148.8 210.1h0.6M145.1 209.0h0.6M142.1 195.1h0.6M136.0 214.3h0.6M141.1 215.4h0.6M146.7 208.2h0.6" stroke="#fff" stroke-width="0.6" stroke-opacity="0.35" fill="none"/>
<path d="M143.6 161 L144.2 172 L145 186" stroke="#aaa" stroke-width="0.9" fill="none" opacity="0.75" filter="url(#bl)"/>
<path d="M146.8 160 L147.2 172 L147.4 185" stroke="#999" stroke-width="0.5" fill="none" opacity="0.6"/>
<path d="M140.6 162 L141.6 174 L142.8 186" stroke="#999" stroke-width="0.4" fill="none" opacity="0.5"/>
<path d="M142.8 199 L141.8 207 L140.5 216.5" stroke="#eee" stroke-width="0.8" fill="none" opacity="0.85"/>
<path d="M146.6 194 L145.4 204 L143 218" stroke="#999" stroke-width="0.45" fill="none" opacity="0.6"/>
<path d="M140.4 195 L139 206 L137 219" stroke="#999" stroke-width="0.4" fill="none" opacity="0.5"/>
<path d="M178.1 232.8h0.8M137.5 233.5h0.8M147.7 233.5h0.8M174.2 234.7h0.8M190.4 233.1h0.8M137.8 233.6h0.8M162.6 232.6h0.8M199.7 233.2h0.8M144.3 233.3h0.8M138.2 232.9h0.8M189.9 233.0h0.8M129.7 234.7h0.8M147.6 233.5h0.8M147.8 233.6h0.8M185.3 233.2h0.8M192.7 232.8h0.8M129.4 233.1h0.8M172.1 232.8h0.8M165.7 232.8h0.8M137.1 233.5h0.8M134.6 234.1h0.8M136.6 233.4h0.8M167.8 234.3h0.8M154.3 234.0h0.8M145.9 233.3h0.8M169.1 233.7h0.8M159.9 233.0h0.8M170.0 234.1h0.8M141.9 233.3h0.8M170.3 233.2h0.8M179.6 233.9h0.8M130.4 233.0h0.8M171.5 233.4h0.8M187.3 232.7h0.8M149.5 233.5h0.8M147.2 232.8h0.8M144.9 233.4h0.8M183.3 232.9h0.8M147.0 233.4h0.8M188.4 234.4h0.8M146.6 232.7h0.8M134.1 233.3h0.8M189.8 233.3h0.8M177.2 233.1h0.8M177.5 233.9h0.8M140.4 232.8h0.8M177.3 234.1h0.8M170.6 233.7h0.8M147.2 233.6h0.8M131.2 233.0h0.8M194.6 232.9h0.8M168.4 233.9h0.8M165.7 233.1h0.8M149.0 232.3h0.8M163.6 233.7h0.8M129.2 233.2h0.8M173.3 233.7h0.8M165.2 232.3h0.8M183.1 233.6h0.8M135.2 234.2h0.8M171.4 233.5h0.8M175.3 233.3h0.8M161.1 233.4h0.8M188.3 233.3h0.8M137.8 233.3h0.8M193.2 233.1h0.8M179.2 233.3h0.8M194.7 233.9h0.8M186.3 232.9h0.8M135.2 232.5h0.8" stroke="#111" stroke-width="0.8" stroke-opacity="0.85" fill="none"/>
<path d="M128.4 180.6h0.8M128.8 207.8h0.8M129.0 155.6h0.8M128.8 226.5h0.8M128.4 201.3h0.8M128.4 198.2h0.8M128.0 168.6h0.8M128.1 189.8h0.8M128.4 158.5h0.8M127.8 222.9h0.8M127.6 212.6h0.8M129.1 195.7h0.8M128.7 225.2h0.8M128.0 207.8h0.8M128.2 168.0h0.8M128.8 222.7h0.8M128.1 191.9h0.8M127.9 208.2h0.8M128.9 189.5h0.8M128.1 208.6h0.8M128.7 172.1h0.8M128.5 204.3h0.8M128.7 160.0h0.8M128.0 175.0h0.8M129.5 212.9h0.8M128.1 191.5h0.8M128.4 220.2h0.8M128.2 207.8h0.8M128.0 201.6h0.8M127.5 194.1h0.8M128.3 168.7h0.8M128.1 178.2h0.8M128.0 218.9h0.8M127.7 208.2h0.8M128.0 191.9h0.8" stroke="#111" stroke-width="0.8" stroke-opacity="0.85" fill="none"/>
</g>
<rect x="127.4" y="148.8" width="87.0" height="85.39999999999998" fill="none" stroke="#222" stroke-width="0.9"/>
<line x1="156.6" y1="148.8" x2="156.6" y2="234.2" stroke="#333" stroke-width="0.7"/>
<line x1="127.4" y1="188.5" x2="214.4" y2="188.5" stroke="#333" stroke-width="0.7"/>
<line x1="126.2" y1="160" x2="127.4" y2="160" stroke="#222" stroke-width="0.6"/>
<line x1="126.2" y1="176" x2="127.4" y2="176" stroke="#222" stroke-width="0.6"/>
<line x1="126.2" y1="192" x2="127.4" y2="192" stroke="#222" stroke-width="0.6"/>
<line x1="126.2" y1="208" x2="127.4" y2="208" stroke="#222" stroke-width="0.6"/>
<line x1="126.2" y1="224" x2="127.4" y2="224" stroke="#222" stroke-width="0.6"/>
<rect x="129" y="151" width="16.5" height="7.2" fill="#fff"/>
<rect x="129" y="226.3" width="16.5" height="7.2" fill="#fff"/>
<text x="0" y="0" font-size="8.3" text-anchor="start" font-weight="normal" font-style="normal" fill="#1a1a1a" transform="translate(129 157.8) scale(0.95 1)">27.2</text>
<text x="0" y="0" font-size="8.3" text-anchor="end" font-weight="normal" font-style="normal" fill="#1a1a1a" transform="translate(213.6 157.8) scale(0.95 1)">5.85</text>
<text x="0" y="0" font-size="8.3" text-anchor="start" font-weight="normal" font-style="normal" fill="#1a1a1a" transform="translate(129 233.0) scale(0.95 1)">54.9</text>
<text x="0" y="0" font-size="8.3" text-anchor="end" font-weight="normal" font-style="normal" fill="#1a1a1a" transform="translate(213.6 233.0) scale(0.95 1)">12.1</text>
<rect x="259.6" y="137.6" width="129.7" height="101.6" fill="none" stroke="#222" stroke-width="0.9"/>
<line x1="258.0" y1="239.2" x2="259.6" y2="239.2" stroke="#222" stroke-width="0.7"/>
<text x="0" y="0" font-size="6.6" text-anchor="end" font-weight="normal" font-style="normal" fill="#1a1a1a" transform="translate(254.8 241.6) scale(0.87 1)">0</text>
<line x1="258.0" y1="218.88" x2="259.6" y2="218.88" stroke="#222" stroke-width="0.7"/>
<text x="0" y="0" font-size="6.6" text-anchor="end" font-weight="normal" font-style="normal" fill="#1a1a1a" transform="translate(254.8 221.28) scale(0.87 1)">10</text>
<line x1="258.0" y1="198.56" x2="259.6" y2="198.56" stroke="#222" stroke-width="0.7"/>
<text x="0" y="0" font-size="6.6" text-anchor="end" font-weight="normal" font-style="normal" fill="#1a1a1a" transform="translate(254.8 200.96) scale(0.87 1)">20</text>
<line x1="258.0" y1="178.23999999999998" x2="259.6" y2="178.23999999999998" stroke="#222" stroke-width="0.7"/>
<text x="0" y="0" font-size="6.6" text-anchor="end" font-weight="normal" font-style="normal" fill="#1a1a1a" transform="translate(254.8 180.64) scale(0.87 1)">30</text>
<line x1="258.0" y1="157.92" x2="259.6" y2="157.92" stroke="#222" stroke-width="0.7"/>
<text x="0" y="0" font-size="6.6" text-anchor="end" font-weight="normal" font-style="normal" fill="#1a1a1a" transform="translate(254.8 160.32) scale(0.87 1)">40</text>
<line x1="258.0" y1="137.6" x2="259.6" y2="137.6" stroke="#222" stroke-width="0.7"/>
<text x="0" y="0" font-size="6.6" text-anchor="end" font-weight="normal" font-style="normal" fill="#1a1a1a" transform="translate(254.8 140.0) scale(0.87 1)">50</text>
<line x1="259.6" y1="239.2" x2="259.6" y2="240.79999999999998" stroke="#222" stroke-width="0.7"/>
<line x1="302.83333333333337" y1="239.2" x2="302.83333333333337" y2="240.79999999999998" stroke="#222" stroke-width="0.7"/>
<line x1="346.06666666666666" y1="239.2" x2="346.06666666666666" y2="240.79999999999998" stroke="#222" stroke-width="0.7"/>
<line x1="389.3" y1="239.2" x2="389.3" y2="240.79999999999998" stroke="#222" stroke-width="0.7"/>
<text x="241.7" y="187.6" font-size="7.45" text-anchor="middle" font-weight="normal" font-style="normal" fill="#1a1a1a" transform="rotate(-90 241.7 187.6)">cytokine producing cells (%)</text>
<rect x="266.2" y="143.2" width="3.6" height="3.6" fill="#ccc" stroke="#111" stroke-width="0.7"/>
<text x="271.2" y="147.2" font-size="6.2" text-anchor="start" font-weight="normal" font-style="normal" fill="#1a1a1a">IL-1R1-</text>
<rect x="266.2" y="151.8" width="3.6" height="3.6" fill="#000" stroke="#000" stroke-width="0.7"/>
<text x="271.2" y="155.8" font-size="6.2" text-anchor="start" font-weight="normal" font-style="normal" fill="#1a1a1a">IL-1R1+</text>
<line x1="274.90000000000003" y1="234.11999999999998" x2="274.90000000000003" y2="235.33919999999998" stroke="#222" stroke-width="0.8"/>
<line x1="272.70000000000005" y1="234.11999999999998" x2="277.1" y2="234.11999999999998" stroke="#222" stroke-width="0.8"/>
<rect x="268.8" y="235.33919999999998" width="12.2" height="3.8608" fill="#c4c4c4" stroke="#111" stroke-width="0.9"/>
<line x1="287.3" y1="211.97119999999998" x2="287.3" y2="217.0512" stroke="#222" stroke-width="0.8"/>
<line x1="285.1" y1="211.97119999999998" x2="289.5" y2="211.97119999999998" stroke="#222" stroke-width="0.8"/>
<rect x="281" y="217.0512" width="12.6" height="22.1488" fill="#000" stroke="#000" stroke-width="0.6"/>
<line x1="317.7" y1="234.5264" x2="317.7" y2="235.5424" stroke="#222" stroke-width="0.8"/>
<line x1="315.5" y1="234.5264" x2="319.9" y2="234.5264" stroke="#222" stroke-width="0.8"/>
<rect x="311.2" y="235.5424" width="13" height="3.6576" fill="#c4c4c4" stroke="#111" stroke-width="0.9"/>
<line x1="330.5" y1="224.976" x2="330.5" y2="227.2112" stroke="#222" stroke-width="0.8"/>
<line x1="328.3" y1="224.976" x2="332.7" y2="224.976" stroke="#222" stroke-width="0.8"/>
<rect x="324.2" y="227.2112" width="12.6" height="11.988800000000001" fill="#000" stroke="#000" stroke-width="0.6"/>
<line x1="360.70000000000005" y1="163.6096" x2="360.70000000000005" y2="176.8176" stroke="#222" stroke-width="0.8"/>
<line x1="358.50000000000006" y1="163.6096" x2="362.90000000000003" y2="163.6096" stroke="#222" stroke-width="0.8"/>
<rect x="354.6" y="176.8176" width="12.2" height="62.3824" fill="#c4c4c4" stroke="#111" stroke-width="0.9"/>
<line x1="373.05" y1="177.02079999999998" x2="373.05" y2="187.9936" stroke="#222" stroke-width="0.8"/>
<line x1="370.85" y1="177.02079999999998" x2="375.25" y2="177.02079999999998" stroke="#222" stroke-width="0.8"/>
<rect x="366.8" y="187.9936" width="12.5" height="51.2064" fill="#000" stroke="#000" stroke-width="0.6"/>
<text x="264.6" y="204.9" font-size="7.9" text-anchor="start" font-weight="normal" font-style="normal" fill="#1a1a1a"><tspan font-style="italic">P</tspan> &lt; .0001</text>
<text x="309.6" y="220.8" font-size="7.9" text-anchor="start" font-weight="normal" font-style="normal" fill="#1a1a1a"><tspan font-style="italic">P</tspan> = .006</text>
<text x="352.6" y="161" font-size="7.9" text-anchor="start" font-weight="normal" font-style="normal" fill="#1a1a1a"><tspan font-style="italic">P</tspan> = .020</text>
<text x="281" y="250.4" font-size="7.7" text-anchor="middle" font-weight="normal" font-style="normal" fill="#1a1a1a">IL-17<tspan font-size="5" dy="-2.4">+</tspan></text>
<text x="324.2" y="250.4" font-size="7.7" text-anchor="middle" font-weight="normal" font-style="normal" fill="#1a1a1a">IL-17<tspan font-size="5" dy="-2.4">+</tspan><tspan dy="2.4">IFN-γ</tspan><tspan font-size="5" dy="-2.4">+</tspan></text>
<text x="366" y="250.4" font-size="7.7" text-anchor="middle" font-weight="normal" font-style="normal" fill="#1a1a1a">IFN-γ<tspan font-size="5" dy="-2.4">+</tspan></text>
<text x="0.6" y="268.4" font-size="11" text-anchor="start" font-weight="bold" font-style="normal" fill="#000">C</text>
<rect x="40.2" y="277.6" width="112.99999999999999" height="102.39999999999998" fill="none" stroke="#222" stroke-width="0.9"/>
<line x1="38.400000000000006" y1="380.0" x2="40.2" y2="380.0" stroke="#222" stroke-width="0.7"/>
<text x="34.800000000000004" y="382.3" font-size="6.5" text-anchor="end" font-weight="normal" font-style="normal" fill="#1a1a1a">0</text>
<line x1="38.400000000000006" y1="345.8666666666667" x2="40.2" y2="345.8666666666667" stroke="#222" stroke-width="0.7"/>
<text x="34.800000000000004" y="348.1666666666667" font-size="6.5" text-anchor="end" font-weight="normal" font-style="normal" fill="#1a1a1a">1000</text>
<line x1="38.400000000000006" y1="311.73333333333335" x2="40.2" y2="311.73333333333335" stroke="#222" stroke-width="0.7"/>
<text x="34.800000000000004" y="314.03333333333336" font-size="6.5" text-anchor="end" font-weight="normal" font-style="normal" fill="#1a1a1a">2000</text>
<line x1="38.400000000000006" y1="277.6" x2="40.2" y2="277.6" stroke="#222" stroke-width="0.7"/>
<text x="34.800000000000004" y="279.90000000000003" font-size="6.5" text-anchor="end" font-weight="normal" font-style="normal" fill="#1a1a1a">3000</text>
<line x1="40.2" y1="380" x2="40.2" y2="382" stroke="#222" stroke-width="0.7"/>
<line x1="78" y1="380" x2="78" y2="382" stroke="#222" stroke-width="0.7"/>
<line x1="115.6" y1="380" x2="115.6" y2="382" stroke="#222" stroke-width="0.7"/>
<line x1="153.2" y1="380" x2="153.2" y2="382" stroke="#222" stroke-width="0.7"/>
<text x="15.4" y="327" font-size="8.1" text-anchor="middle" font-weight="normal" font-style="normal" fill="#1a1a1a" transform="rotate(-90 15.4 327)">IL-17 (pg/mL)</text>
<line x1="59.3" y1="345.8666666666667" x2="59.3" y2="356.1066666666667" stroke="#222" stroke-width="1.1"/>
<line x1="57.099999999999994" y1="345.8666666666667" x2="61.5" y2="345.8666666666667" stroke="#222" stroke-width="1.1"/>
<line x1="96.8" y1="281.0133333333333" x2="96.8" y2="304.22400000000005" stroke="#222" stroke-width="1.1"/>
<line x1="94.6" y1="281.0133333333333" x2="99.0" y2="281.0133333333333" stroke="#222" stroke-width="1.1"/>
<line x1="134.3" y1="291.25333333333333" x2="134.3" y2="311.05066666666664" stroke="#222" stroke-width="1.1"/>
<line x1="132.10000000000002" y1="291.25333333333333" x2="136.5" y2="291.25333333333333" stroke="#222" stroke-width="1.1"/>
<polyline points="59.3,356.1 96.8,304.2 134.3,311.1" fill="none" stroke="#111" stroke-width="1.2"/>
<polyline points="59.3,379.3 96.8,373.2 134.3,373.9" fill="none" stroke="#111" stroke-width="1.1"/>
<circle cx="59.3" cy="356.1" r="2.7" fill="#000"/>
<circle cx="96.8" cy="304.2" r="2.7" fill="#000"/>
<circle cx="134.3" cy="311.1" r="2.7" fill="#000"/>
<circle cx="59.3" cy="379.3" r="2.4" fill="#fff" stroke="#111" stroke-width="1"/>
<circle cx="96.8" cy="373.2" r="2.4" fill="#fff" stroke="#111" stroke-width="1"/>
<circle cx="134.3" cy="373.9" r="2.4" fill="#fff" stroke="#111" stroke-width="1"/>
<line x1="50" y1="285.2" x2="65" y2="285.2" stroke="#111" stroke-width="0.9"/>
<circle cx="57.2" cy="285.2" r="1.9" fill="#fff" stroke="#111" stroke-width="0.8"/>
<text x="66.4" y="287.5" font-size="6.9" text-anchor="start" font-weight="normal" font-style="normal" fill="#1a1a1a">IL1R1-</text>
<line x1="50" y1="293.8" x2="65" y2="293.8" stroke="#111" stroke-width="0.9"/>
<circle cx="57.2" cy="293.8" r="2.1" fill="#000"/>
<text x="66.4" y="296.2" font-size="6.9" text-anchor="start" font-weight="normal" font-style="normal" fill="#1a1a1a">IL1R1+</text>
<text x="78.8" y="338.8" font-size="9.1" text-anchor="start" font-weight="normal" font-style="normal" fill="#1a1a1a"><tspan font-style="italic">P</tspan> = .032</text>
<text x="116.2" y="358.8" font-size="9.1" text-anchor="start" font-weight="normal" font-style="normal" fill="#1a1a1a"><tspan font-style="italic">P</tspan> = .022</text>
<text x="59.3" y="376.4" font-size="16" text-anchor="middle" font-weight="bold" font-style="normal" fill="#000">*</text>
<text x="59.3" y="390.6" font-size="6.2" text-anchor="middle" font-weight="normal" font-style="normal" fill="#1a1a1a">3</text>
<text x="96.8" y="390.6" font-size="6.2" text-anchor="middle" font-weight="normal" font-style="normal" fill="#1a1a1a">5</text>
<text x="134.3" y="390.6" font-size="6.2" text-anchor="middle" font-weight="normal" font-style="normal" fill="#1a1a1a">7</text>
<text x="96.6" y="404.5" font-size="8.4" text-anchor="middle" font-weight="normal" font-style="normal" fill="#1a1a1a">Time (days)</text>
<text x="167.4" y="269.4" font-size="11" text-anchor="start" font-weight="bold" font-style="normal" fill="#000">D</text>
<rect x="208.4" y="277.1" width="54.400000000000006" height="66.39999999999998" fill="none" stroke="#222" stroke-width="0.9"/>
<line x1="206.8" y1="343.5" x2="208.4" y2="343.5" stroke="#222" stroke-width="0.7"/>
<text x="203.20000000000002" y="345.9" font-size="6.9" text-anchor="end" font-weight="normal" font-style="normal" fill="#1a1a1a">0</text>
<line x1="206.8" y1="330.22" x2="208.4" y2="330.22" stroke="#222" stroke-width="0.7"/>
<text x="203.20000000000002" y="332.62" font-size="6.9" text-anchor="end" font-weight="normal" font-style="normal" fill="#1a1a1a">50</text>
<line x1="206.8" y1="316.94" x2="208.4" y2="316.94" stroke="#222" stroke-width="0.7"/>
<text x="203.20000000000002" y="319.34" font-size="6.9" text-anchor="end" font-weight="normal" font-style="normal" fill="#1a1a1a">100</text>
<line x1="206.8" y1="303.66" x2="208.4" y2="303.66" stroke="#222" stroke-width="0.7"/>
<text x="203.20000000000002" y="306.06" font-size="6.9" text-anchor="end" font-weight="normal" font-style="normal" fill="#1a1a1a">150</text>
<line x1="206.8" y1="290.38" x2="208.4" y2="290.38" stroke="#222" stroke-width="0.7"/>
<text x="203.20000000000002" y="292.78" font-size="6.9" text-anchor="end" font-weight="normal" font-style="normal" fill="#1a1a1a">200</text>
<line x1="206.8" y1="277.1" x2="208.4" y2="277.1" stroke="#222" stroke-width="0.7"/>
<text x="203.20000000000002" y="279.5" font-size="6.9" text-anchor="end" font-weight="normal" font-style="normal" fill="#1a1a1a">250</text>
<line x1="208.4" y1="343.5" x2="208.4" y2="345.1" stroke="#222" stroke-width="0.7"/>
<line x1="235.60000000000002" y1="343.5" x2="235.60000000000002" y2="345.1" stroke="#222" stroke-width="0.7"/>
<line x1="262.8" y1="343.5" x2="262.8" y2="345.1" stroke="#222" stroke-width="0.7"/>
<text x="185.9" y="310.3" font-size="8.1" text-anchor="middle" font-weight="normal" font-style="italic" fill="#1a1a1a" transform="rotate(-90 185.9 310.3)">IL17F/ACTB</text>
<rect x="216.1" y="342.5" width="11.7" height="0.8" fill="#666" stroke="#222" stroke-width="0.5"/>
<line x1="249.64999999999998" y1="289.58320000000003" x2="249.64999999999998" y2="309.7688" stroke="#222" stroke-width="0.8"/>
<line x1="247.24999999999997" y1="289.58320000000003" x2="252.04999999999998" y2="289.58320000000003" stroke="#222" stroke-width="0.8"/>
<rect x="244.2" y="309.7688" width="10.9" height="33.73119999999999" fill="#000" stroke="#000" stroke-width="0.6"/>
<text x="222.5" y="355.9" font-size="6.8" text-anchor="middle" font-weight="normal" font-style="normal" fill="#1a1a1a" textLength="18.6" lengthAdjust="spacingAndGlyphs">IL-1RI-</text>
<text x="249.8" y="355.9" font-size="6.8" text-anchor="middle" font-weight="normal" font-style="normal" fill="#1a1a1a" textLength="20.4" lengthAdjust="spacingAndGlyphs">IL-1RI+</text>
<rect x="294.4" y="277.1" width="54.400000000000034" height="66.39999999999998" fill="none" stroke="#222" stroke-width="0.9"/>
<line x1="292.79999999999995" y1="343.5" x2="294.4" y2="343.5" stroke="#222" stroke-width="0.7"/>
<text x="289.2" y="345.9" font-size="6.9" text-anchor="end" font-weight="normal" font-style="normal" fill="#1a1a1a">0</text>
<line x1="292.79999999999995" y1="330.22" x2="294.4" y2="330.22" stroke="#222" stroke-width="0.7"/>
<text x="289.2" y="332.62" font-size="6.9" text-anchor="end" font-weight="normal" font-style="normal" fill="#1a1a1a">1</text>
<line x1="292.79999999999995" y1="316.94" x2="294.4" y2="316.94" stroke="#222" stroke-width="0.7"/>
<text x="289.2" y="319.34" font-size="6.9" text-anchor="end" font-weight="normal" font-style="normal" fill="#1a1a1a">2</text>
<line x1="292.79999999999995" y1="303.66" x2="294.4" y2="303.66" stroke="#222" stroke-width="0.7"/>
<text x="289.2" y="306.06" font-size="6.9" text-anchor="end" font-weight="normal" font-style="normal" fill="#1a1a1a">3</text>
<line x1="292.79999999999995" y1="290.38" x2="294.4" y2="290.38" stroke="#222" stroke-width="0.7"/>
<text x="289.2" y="292.78" font-size="6.9" text-anchor="end" font-weight="normal" font-style="normal" fill="#1a1a1a">4</text>
<line x1="292.79999999999995" y1="277.1" x2="294.4" y2="277.1" stroke="#222" stroke-width="0.7"/>
<text x="289.2" y="279.5" font-size="6.9" text-anchor="end" font-weight="normal" font-style="normal" fill="#1a1a1a">5</text>
<line x1="294.4" y1="343.5" x2="294.4" y2="345.1" stroke="#222" stroke-width="0.7"/>
<line x1="321.6" y1="343.5" x2="321.6" y2="345.1" stroke="#222" stroke-width="0.7"/>
<line x1="348.8" y1="343.5" x2="348.8" y2="345.1" stroke="#222" stroke-width="0.7"/>
<text x="279.8" y="310.3" font-size="8.1" text-anchor="middle" font-weight="normal" font-style="italic" fill="#1a1a1a" transform="rotate(-90 279.8 310.3)">RORC/ACTB</text>
<rect x="302" y="330.22" width="11.8" height="13.279999999999996" fill="#999" stroke="#222" stroke-width="0.8"/>
<line x1="335.9" y1="299.67600000000004" x2="335.9" y2="306.31600000000003" stroke="#222" stroke-width="0.8"/>
<line x1="333.5" y1="299.67600000000004" x2="338.29999999999995" y2="299.67600000000004" stroke="#222" stroke-width="0.8"/>
<rect x="330.5" y="306.31600000000003" width="10.8" height="37.18399999999998" fill="#000" stroke="#000" stroke-width="0.6"/>
<text x="307.5" y="355.9" font-size="6.8" text-anchor="middle" font-weight="normal" font-style="normal" fill="#1a1a1a" textLength="18.6" lengthAdjust="spacingAndGlyphs">IL-1RI-</text>
<text x="336.3" y="355.9" font-size="6.8" text-anchor="middle" font-weight="normal" font-style="normal" fill="#1a1a1a" textLength="20.4" lengthAdjust="spacingAndGlyphs">IL-1RI+</text>
<rect x="380" y="277.1" width="54.5" height="66.39999999999998" fill="none" stroke="#222" stroke-width="0.9"/>
<line x1="378.4" y1="343.5" x2="380" y2="343.5" stroke="#222" stroke-width="0.7"/>
<text x="374.8" y="345.9" font-size="6.9" text-anchor="end" font-weight="normal" font-style="normal" fill="#1a1a1a">0</text>
<line x1="378.4" y1="330.22" x2="380" y2="330.22" stroke="#222" stroke-width="0.7"/>
<text x="374.8" y="332.62" font-size="6.9" text-anchor="end" font-weight="normal" font-style="normal" fill="#1a1a1a">1</text>
<line x1="378.4" y1="316.94" x2="380" y2="316.94" stroke="#222" stroke-width="0.7"/>
<text x="374.8" y="319.34" font-size="6.9" text-anchor="end" font-weight="normal" font-style="normal" fill="#1a1a1a">2</text>
<line x1="378.4" y1="303.66" x2="380" y2="303.66" stroke="#222" stroke-width="0.7"/>
<text x="374.8" y="306.06" font-size="6.9" text-anchor="end" font-weight="normal" font-style="normal" fill="#1a1a1a">3</text>
<line x1="378.4" y1="290.38" x2="380" y2="290.38" stroke="#222" stroke-width="0.7"/>
<text x="374.8" y="292.78" font-size="6.9" text-anchor="end" font-weight="normal" font-style="normal" fill="#1a1a1a">4</text>
<line x1="378.4" y1="277.1" x2="380" y2="277.1" stroke="#222" stroke-width="0.7"/>
<text x="374.8" y="279.5" font-size="6.9" text-anchor="end" font-weight="normal" font-style="normal" fill="#1a1a1a">5</text>
<line x1="380" y1="343.5" x2="380" y2="345.1" stroke="#222" stroke-width="0.7"/>
<line x1="407.25" y1="343.5" x2="407.25" y2="345.1" stroke="#222" stroke-width="0.7"/>
<line x1="434.5" y1="343.5" x2="434.5" y2="345.1" stroke="#222" stroke-width="0.7"/>
<text x="367" y="310.3" font-size="8.1" text-anchor="middle" font-weight="normal" font-style="italic" fill="#1a1a1a" transform="rotate(-90 367 310.3)">RORA/ACTB</text>
<rect x="388.8" y="330.22" width="11.5" height="13.279999999999996" fill="#999" stroke="#222" stroke-width="0.8"/>
<line x1="421.75" y1="309.3704" x2="421.75" y2="317.604" stroke="#222" stroke-width="0.8"/>
<line x1="419.35" y1="309.3704" x2="424.15" y2="309.3704" stroke="#222" stroke-width="0.8"/>
<rect x="416" y="317.604" width="11.5" height="25.89599999999999" fill="#000" stroke="#000" stroke-width="0.6"/>
<text x="394.4" y="355.9" font-size="6.8" text-anchor="middle" font-weight="normal" font-style="normal" fill="#1a1a1a" textLength="18.6" lengthAdjust="spacingAndGlyphs">IL-1RI-</text>
<text x="422" y="355.9" font-size="6.8" text-anchor="middle" font-weight="normal" font-style="normal" fill="#1a1a1a" textLength="20.4" lengthAdjust="spacingAndGlyphs">IL-1RI+</text>
<rect x="465.5" y="277.1" width="53.89999999999998" height="65.69999999999999" fill="none" stroke="#222" stroke-width="0.9"/>
<line x1="463.9" y1="342.8" x2="465.5" y2="342.8" stroke="#222" stroke-width="0.7"/>
<text x="460.3" y="345.2" font-size="6.9" text-anchor="end" font-weight="normal" font-style="normal" fill="#1a1a1a">0</text>
<line x1="463.9" y1="326.375" x2="465.5" y2="326.375" stroke="#222" stroke-width="0.7"/>
<text x="460.3" y="328.775" font-size="6.9" text-anchor="end" font-weight="normal" font-style="normal" fill="#1a1a1a">1</text>
<line x1="463.9" y1="309.95000000000005" x2="465.5" y2="309.95000000000005" stroke="#222" stroke-width="0.7"/>
<text x="460.3" y="312.35" font-size="6.9" text-anchor="end" font-weight="normal" font-style="normal" fill="#1a1a1a">2</text>
<line x1="463.9" y1="293.52500000000003" x2="465.5" y2="293.52500000000003" stroke="#222" stroke-width="0.7"/>
<text x="460.3" y="295.925" font-size="6.9" text-anchor="end" font-weight="normal" font-style="normal" fill="#1a1a1a">3</text>
<line x1="463.9" y1="277.1" x2="465.5" y2="277.1" stroke="#222" stroke-width="0.7"/>
<text x="460.3" y="279.5" font-size="6.9" text-anchor="end" font-weight="normal" font-style="normal" fill="#1a1a1a">4</text>
<line x1="465.5" y1="342.8" x2="465.5" y2="344.40000000000003" stroke="#222" stroke-width="0.7"/>
<line x1="492.45" y1="342.8" x2="492.45" y2="344.40000000000003" stroke="#222" stroke-width="0.7"/>
<line x1="519.4" y1="342.8" x2="519.4" y2="344.40000000000003" stroke="#222" stroke-width="0.7"/>
<text x="451.6" y="309.95000000000005" font-size="8.1" text-anchor="middle" font-weight="normal" font-style="italic" fill="#1a1a1a" transform="rotate(-90 451.6 309.95000000000005)">IRF4/ACTB</text>
<rect x="473.8" y="326.375" width="10.8" height="16.424999999999997" fill="#cfcfcf" stroke="#222" stroke-width="0.8"/>
<line x1="506.3" y1="294.34625" x2="506.3" y2="305.84375" stroke="#222" stroke-width="0.8"/>
<line x1="503.90000000000003" y1="294.34625" x2="508.7" y2="294.34625" stroke="#222" stroke-width="0.8"/>
<rect x="500.8" y="305.84375" width="11" height="36.95625" fill="#000" stroke="#000" stroke-width="0.6"/>
<text x="479.3" y="355.9" font-size="6.8" text-anchor="middle" font-weight="normal" font-style="normal" fill="#1a1a1a" textLength="18.6" lengthAdjust="spacingAndGlyphs">IL-1RI-</text>
<text x="506.3" y="355.9" font-size="6.8" text-anchor="middle" font-weight="normal" font-style="normal" fill="#1a1a1a" textLength="20.4" lengthAdjust="spacingAndGlyphs">IL-1RI+</text>
<rect x="208.4" y="368.3" width="54.29999999999998" height="66.19999999999999" fill="none" stroke="#222" stroke-width="0.9"/>
<line x1="206.8" y1="434.5" x2="208.4" y2="434.5" stroke="#222" stroke-width="0.7"/>
<text x="203.20000000000002" y="436.9" font-size="6.9" text-anchor="end" font-weight="normal" font-style="normal" fill="#1a1a1a">0</text>
<line x1="206.8" y1="421.26" x2="208.4" y2="421.26" stroke="#222" stroke-width="0.7"/>
<text x="203.20000000000002" y="423.65999999999997" font-size="6.9" text-anchor="end" font-weight="normal" font-style="normal" fill="#1a1a1a">1</text>
<line x1="206.8" y1="408.02" x2="208.4" y2="408.02" stroke="#222" stroke-width="0.7"/>
<text x="203.20000000000002" y="410.41999999999996" font-size="6.9" text-anchor="end" font-weight="normal" font-style="normal" fill="#1a1a1a">2</text>
<line x1="206.8" y1="394.78" x2="208.4" y2="394.78" stroke="#222" stroke-width="0.7"/>
<text x="203.20000000000002" y="397.17999999999995" font-size="6.9" text-anchor="end" font-weight="normal" font-style="normal" fill="#1a1a1a">3</text>
<line x1="206.8" y1="381.54" x2="208.4" y2="381.54" stroke="#222" stroke-width="0.7"/>
<text x="203.20000000000002" y="383.94" font-size="6.9" text-anchor="end" font-weight="normal" font-style="normal" fill="#1a1a1a">4</text>
<line x1="206.8" y1="368.3" x2="208.4" y2="368.3" stroke="#222" stroke-width="0.7"/>
<text x="203.20000000000002" y="370.7" font-size="6.9" text-anchor="end" font-weight="normal" font-style="normal" fill="#1a1a1a">5</text>
<line x1="208.4" y1="434.5" x2="208.4" y2="436.1" stroke="#222" stroke-width="0.7"/>
<line x1="235.55" y1="434.5" x2="235.55" y2="436.1" stroke="#222" stroke-width="0.7"/>
<line x1="262.7" y1="434.5" x2="262.7" y2="436.1" stroke="#222" stroke-width="0.7"/>
<text x="192.8" y="401.4" font-size="8.1" text-anchor="middle" font-weight="normal" font-style="italic" fill="#1a1a1a" transform="rotate(-90 192.8 401.4)">IL21/ACTB</text>
<rect x="216.1" y="421.26" width="11.7" height="13.239999999999998" fill="#999" stroke="#222" stroke-width="0.8"/>
<line x1="248.85000000000002" y1="417.288" x2="248.85000000000002" y2="422.584" stroke="#222" stroke-width="0.8"/>
<line x1="246.45000000000002" y1="417.288" x2="251.25000000000003" y2="417.288" stroke="#222" stroke-width="0.8"/>
<rect x="243.3" y="422.584" width="11.1" height="11.915999999999999" fill="#000" stroke="#000" stroke-width="0.6"/>
<text x="222.5" y="446.6" font-size="6.8" text-anchor="middle" font-weight="normal" font-style="normal" fill="#1a1a1a" textLength="18.6" lengthAdjust="spacingAndGlyphs">IL-1RI-</text>
<text x="249.8" y="446.6" font-size="6.8" text-anchor="middle" font-weight="normal" font-style="normal" fill="#1a1a1a" textLength="20.4" lengthAdjust="spacingAndGlyphs">IL-1RI+</text>
<rect x="294.3" y="368.3" width="54.5" height="66.19999999999999" fill="none" stroke="#222" stroke-width="0.9"/>
<line x1="292.7" y1="434.5" x2="294.3" y2="434.5" stroke="#222" stroke-width="0.7"/>
<text x="289.1" y="436.9" font-size="6.9" text-anchor="end" font-weight="normal" font-style="normal" fill="#1a1a1a">0</text>
<line x1="292.7" y1="421.26" x2="294.3" y2="421.26" stroke="#222" stroke-width="0.7"/>
<text x="289.1" y="423.65999999999997" font-size="6.9" text-anchor="end" font-weight="normal" font-style="normal" fill="#1a1a1a">1</text>
<line x1="292.7" y1="408.02" x2="294.3" y2="408.02" stroke="#222" stroke-width="0.7"/>
<text x="289.1" y="410.41999999999996" font-size="6.9" text-anchor="end" font-weight="normal" font-style="normal" fill="#1a1a1a">2</text>
<line x1="292.7" y1="394.78" x2="294.3" y2="394.78" stroke="#222" stroke-width="0.7"/>
<text x="289.1" y="397.17999999999995" font-size="6.9" text-anchor="end" font-weight="normal" font-style="normal" fill="#1a1a1a">3</text>
<line x1="292.7" y1="381.54" x2="294.3" y2="381.54" stroke="#222" stroke-width="0.7"/>
<text x="289.1" y="383.94" font-size="6.9" text-anchor="end" font-weight="normal" font-style="normal" fill="#1a1a1a">4</text>
<line x1="292.7" y1="368.3" x2="294.3" y2="368.3" stroke="#222" stroke-width="0.7"/>
<text x="289.1" y="370.7" font-size="6.9" text-anchor="end" font-weight="normal" font-style="normal" fill="#1a1a1a">5</text>
<line x1="294.3" y1="434.5" x2="294.3" y2="436.1" stroke="#222" stroke-width="0.7"/>
<line x1="321.55" y1="434.5" x2="321.55" y2="436.1" stroke="#222" stroke-width="0.7"/>
<line x1="348.8" y1="434.5" x2="348.8" y2="436.1" stroke="#222" stroke-width="0.7"/>
<text x="279.8" y="401.4" font-size="8.1" text-anchor="middle" font-weight="normal" font-style="italic" fill="#1a1a1a" transform="rotate(-90 279.8 401.4)">IL26/ACTB</text>
<rect x="302" y="421.26" width="11.8" height="13.239999999999998" fill="#999" stroke="#222" stroke-width="0.8"/>
<line x1="335.4" y1="382.202" x2="335.4" y2="394.78" stroke="#222" stroke-width="0.8"/>
<line x1="333.0" y1="382.202" x2="337.79999999999995" y2="382.202" stroke="#222" stroke-width="0.8"/>
<rect x="330" y="394.78" width="10.8" height="39.72" fill="#000" stroke="#000" stroke-width="0.6"/>
<text x="307.5" y="446.6" font-size="6.8" text-anchor="middle" font-weight="normal" font-style="normal" fill="#1a1a1a" textLength="18.6" lengthAdjust="spacingAndGlyphs">IL-1RI-</text>
<text x="336.3" y="446.6" font-size="6.8" text-anchor="middle" font-weight="normal" font-style="normal" fill="#1a1a1a" textLength="20.4" lengthAdjust="spacingAndGlyphs">IL-1RI+</text>
<rect x="379.8" y="368.3" width="54.69999999999999" height="66.19999999999999" fill="none" stroke="#222" stroke-width="0.9"/>
<line x1="378.2" y1="434.5" x2="379.8" y2="434.5" stroke="#222" stroke-width="0.7"/>
<text x="374.6" y="436.9" font-size="6.9" text-anchor="end" font-weight="normal" font-style="normal" fill="#1a1a1a">0</text>
<line x1="378.2" y1="421.26" x2="379.8" y2="421.26" stroke="#222" stroke-width="0.7"/>
<text x="374.6" y="423.65999999999997" font-size="6.9" text-anchor="end" font-weight="normal" font-style="normal" fill="#1a1a1a">1</text>
<line x1="378.2" y1="408.02" x2="379.8" y2="408.02" stroke="#222" stroke-width="0.7"/>
<text x="374.6" y="410.41999999999996" font-size="6.9" text-anchor="end" font-weight="normal" font-style="normal" fill="#1a1a1a">2</text>
<line x1="378.2" y1="394.78" x2="379.8" y2="394.78" stroke="#222" stroke-width="0.7"/>
<text x="374.6" y="397.17999999999995" font-size="6.9" text-anchor="end" font-weight="normal" font-style="normal" fill="#1a1a1a">3</text>
<line x1="378.2" y1="381.54" x2="379.8" y2="381.54" stroke="#222" stroke-width="0.7"/>
<text x="374.6" y="383.94" font-size="6.9" text-anchor="end" font-weight="normal" font-style="normal" fill="#1a1a1a">4</text>
<line x1="378.2" y1="368.3" x2="379.8" y2="368.3" stroke="#222" stroke-width="0.7"/>
<text x="374.6" y="370.7" font-size="6.9" text-anchor="end" font-weight="normal" font-style="normal" fill="#1a1a1a">5</text>
<line x1="379.8" y1="434.5" x2="379.8" y2="436.1" stroke="#222" stroke-width="0.7"/>
<line x1="407.15" y1="434.5" x2="407.15" y2="436.1" stroke="#222" stroke-width="0.7"/>
<line x1="434.5" y1="434.5" x2="434.5" y2="436.1" stroke="#222" stroke-width="0.7"/>
<text x="365.6" y="401.4" font-size="8.1" text-anchor="middle" font-weight="normal" font-style="italic" fill="#1a1a1a" transform="rotate(-90 365.6 401.4)">IL23R/ACTB</text>
<rect x="387.6" y="421.26" width="11.6" height="13.239999999999998" fill="#999" stroke="#222" stroke-width="0.8"/>
<line x1="420.9" y1="381.54" x2="420.9" y2="395.17719999999997" stroke="#222" stroke-width="0.8"/>
<line x1="418.5" y1="381.54" x2="423.29999999999995" y2="381.54" stroke="#222" stroke-width="0.8"/>
<rect x="415.5" y="395.17719999999997" width="10.8" height="39.3228" fill="#000" stroke="#000" stroke-width="0.6"/>
<text x="393.8" y="446.6" font-size="6.8" text-anchor="middle" font-weight="normal" font-style="normal" fill="#1a1a1a" textLength="18.6" lengthAdjust="spacingAndGlyphs">IL-1RI-</text>
<text x="422" y="446.6" font-size="6.8" text-anchor="middle" font-weight="normal" font-style="normal" fill="#1a1a1a" textLength="20.4" lengthAdjust="spacingAndGlyphs">IL-1RI+</text>
</svg>
</body>
</html>
